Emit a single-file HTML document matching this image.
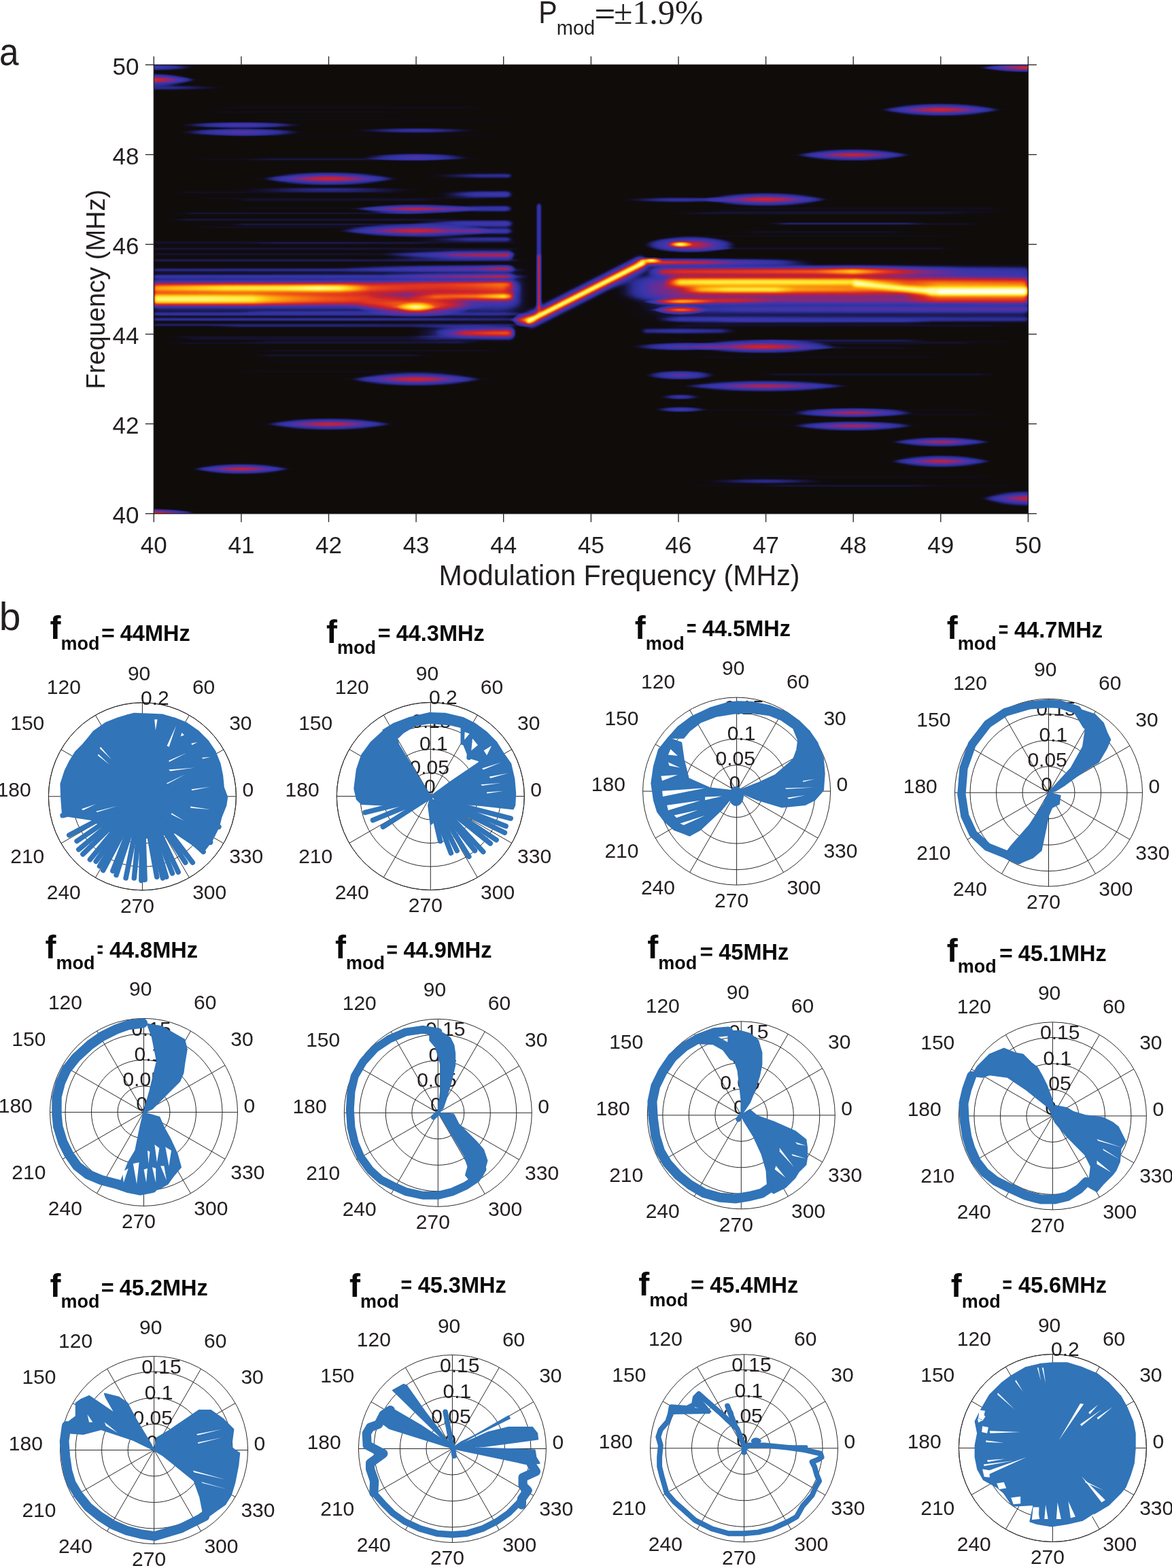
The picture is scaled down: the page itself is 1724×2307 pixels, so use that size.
<!DOCTYPE html>
<html><head><meta charset="utf-8"><title>Figure</title>
<style>html,body{margin:0;padding:0;background:#fff;width:1724px;height:2307px;overflow:hidden;}svg{display:block;}</style></head>
<body><svg width="1724" height="2307" viewBox="0 0 1724 2307">
<rect width="1724" height="2307" fill="#fff"/>
<defs>
<radialGradient id="gb"><stop offset="0" stop-color="#fff" stop-opacity="1"/><stop offset="0.05" stop-color="#fff" stop-opacity="0.9849"/><stop offset="0.10" stop-color="#fff" stop-opacity="0.9602"/><stop offset="0.15" stop-color="#fff" stop-opacity="0.9298"/><stop offset="0.20" stop-color="#fff" stop-opacity="0.8949"/><stop offset="0.25" stop-color="#fff" stop-opacity="0.8564"/><stop offset="0.30" stop-color="#fff" stop-opacity="0.8147"/><stop offset="0.40" stop-color="#fff" stop-opacity="0.7227"/><stop offset="0.50" stop-color="#fff" stop-opacity="0.6211"/><stop offset="0.60" stop-color="#fff" stop-opacity="0.5109"/><stop offset="0.70" stop-color="#fff" stop-opacity="0.3931"/><stop offset="0.80" stop-color="#fff" stop-opacity="0.2683"/><stop offset="0.90" stop-color="#fff" stop-opacity="0.1371"/><stop offset="0.95" stop-color="#fff" stop-opacity="0.0693"/><stop offset="1" stop-color="#fff" stop-opacity="0"/></radialGradient>
<filter id="cm" x="0" y="0" width="1" height="1" color-interpolation-filters="sRGB"><feComponentTransfer><feFuncR type="table" tableValues="0.0627 0.0640 0.0652 0.0664 0.0716 0.0777 0.0838 0.0951 0.1098 0.1245 0.1392 0.1539 0.1686 0.1816 0.1877 0.1939 0.2000 0.2061 0.2132 0.2316 0.2500 0.2684 0.2868 0.3051 0.3382 0.3719 0.4056 0.4393 0.4730 0.5125 0.5531 0.5937 0.6343 0.6749 0.7061 0.7337 0.7613 0.7888 0.8110 0.8325 0.8539 0.8754 0.8968 0.9107 0.9222 0.9337 0.9452 0.9566 0.9642 0.9696 0.9749 0.9803 0.9857 0.9894 0.9917 0.9940 0.9963 0.9986 1.0000 1.0000 1.0000 1.0000 1.0000 1.0000 1.0000"/><feFuncG type="table" tableValues="0.0471 0.0483 0.0495 0.0507 0.0578 0.0664 0.0750 0.0887 0.1059 0.1230 0.1392 0.1539 0.1686 0.1816 0.1877 0.1939 0.2000 0.2061 0.2115 0.2085 0.2054 0.2023 0.1993 0.1962 0.1902 0.1841 0.1779 0.1718 0.1657 0.1602 0.1548 0.1495 0.1441 0.1388 0.1380 0.1390 0.1400 0.1411 0.1574 0.1757 0.1941 0.2125 0.2309 0.2644 0.3027 0.3410 0.3793 0.4176 0.4608 0.5067 0.5527 0.5987 0.6446 0.6886 0.7307 0.7728 0.8150 0.8571 0.8922 0.9167 0.9412 0.9632 0.9755 0.9877 1.0000"/><feFuncB type="table" tableValues="0.0431 0.0542 0.0652 0.0762 0.1127 0.1556 0.1985 0.2561 0.3235 0.3909 0.4510 0.5000 0.5490 0.5913 0.6066 0.6219 0.6373 0.6526 0.6664 0.6625 0.6587 0.6549 0.6510 0.6472 0.6250 0.6020 0.5790 0.5561 0.5331 0.4889 0.4406 0.3924 0.3441 0.2959 0.2625 0.2349 0.2074 0.1798 0.1650 0.1520 0.1390 0.1259 0.1129 0.1040 0.0963 0.0887 0.0810 0.0733 0.0676 0.0631 0.0585 0.0539 0.0493 0.0582 0.0797 0.1011 0.1225 0.1440 0.1961 0.2941 0.3922 0.5000 0.6471 0.7941 0.9412"/></feComponentTransfer></filter>
<clipPath id="hc"><rect x="226.3" y="95.4" width="1286.1" height="660.3"/></clipPath>
</defs>
<g clip-path="url(#hc)"><g filter="url(#cm)">
<rect x="226.3" y="95.4" width="1286.1" height="660.3" fill="#000"/>
<ellipse cx="226.0" cy="99.0" rx="65.3" ry="5.8" fill="url(#gb)" opacity="0.320"/>
<ellipse cx="222.0" cy="117.5" rx="65.0" ry="10.5" fill="url(#gb)" opacity="0.510"/>
<ellipse cx="222.0" cy="117.5" rx="80.6" ry="5.1" fill="url(#gb)" opacity="0.240"/>
<ellipse cx="240.0" cy="129.0" rx="100.0" ry="5.0" fill="url(#gb)" opacity="0.200"/>
<ellipse cx="355.0" cy="184.0" rx="96.4" ry="5.5" fill="url(#gb)" opacity="0.360"/>
<ellipse cx="355.0" cy="194.5" rx="95.3" ry="6.6" fill="url(#gb)" opacity="0.400"/>
<ellipse cx="612.0" cy="192.0" rx="100.0" ry="5.0" fill="url(#gb)" opacity="0.240"/>
<ellipse cx="612.0" cy="231.0" rx="81.8" ry="6.3" fill="url(#gb)" opacity="0.340"/>
<ellipse cx="484.0" cy="263.0" rx="98.2" ry="11.3" fill="url(#gb)" opacity="0.476"/>
<ellipse cx="484.0" cy="263.0" rx="119.6" ry="5.4" fill="url(#gb)" opacity="0.224"/>
<ellipse cx="484.0" cy="279.0" rx="150.0" ry="5.0" fill="url(#gb)" opacity="0.190"/>
<ellipse cx="612.0" cy="307.5" rx="89.4" ry="8.3" fill="url(#gb)" opacity="0.442"/>
<ellipse cx="612.0" cy="307.5" rx="106.6" ry="3.9" fill="url(#gb)" opacity="0.208"/>
<ellipse cx="612.0" cy="339.6" rx="112.6" ry="10.7" fill="url(#gb)" opacity="0.468"/>
<ellipse cx="612.0" cy="339.6" rx="136.5" ry="5.1" fill="url(#gb)" opacity="0.220"/>
<ellipse cx="610.0" cy="450.0" rx="87.2" ry="16.9" fill="url(#gb)" opacity="0.561"/>
<ellipse cx="610.0" cy="450.0" rx="110.5" ry="8.4" fill="url(#gb)" opacity="0.264"/>
<ellipse cx="612.0" cy="452.0" rx="29.0" ry="8.0" fill="url(#gb)" opacity="0.790"/>
<ellipse cx="612.0" cy="452.0" rx="39.0" ry="4.2" fill="url(#gb)" opacity="0.372"/>
<ellipse cx="772.0" cy="471.0" rx="18.5" ry="10.9" fill="url(#gb)" opacity="0.561"/>
<ellipse cx="772.0" cy="471.0" rx="23.4" ry="5.4" fill="url(#gb)" opacity="0.264"/>
<ellipse cx="1015.0" cy="360.0" rx="71.4" ry="13.1" fill="url(#gb)" opacity="0.600"/>
<ellipse cx="1001.0" cy="359.5" rx="18.9" ry="5.0" fill="url(#gb)" opacity="0.950"/>
<ellipse cx="1001.0" cy="456.0" rx="39.0" ry="7.2" fill="url(#gb)" opacity="0.561"/>
<ellipse cx="1001.0" cy="456.0" rx="49.4" ry="3.6" fill="url(#gb)" opacity="0.264"/>
<ellipse cx="1126.0" cy="293.5" rx="90.7" ry="11.3" fill="url(#gb)" opacity="0.476"/>
<ellipse cx="1126.0" cy="293.5" rx="110.5" ry="5.4" fill="url(#gb)" opacity="0.224"/>
<ellipse cx="1000.0" cy="294.0" rx="91.7" ry="5.0" fill="url(#gb)" opacity="0.240"/>
<ellipse cx="1122.0" cy="510.0" rx="107.3" ry="11.4" fill="url(#gb)" opacity="0.468"/>
<ellipse cx="1122.0" cy="510.0" rx="130.0" ry="5.4" fill="url(#gb)" opacity="0.220"/>
<ellipse cx="1000.0" cy="510.0" rx="75.7" ry="6.9" fill="url(#gb)" opacity="0.360"/>
<ellipse cx="1255.0" cy="228.0" rx="84.1" ry="10.1" fill="url(#gb)" opacity="0.459"/>
<ellipse cx="1255.0" cy="228.0" rx="101.4" ry="4.8" fill="url(#gb)" opacity="0.216"/>
<ellipse cx="1384.0" cy="161.5" rx="87.5" ry="10.7" fill="url(#gb)" opacity="0.476"/>
<ellipse cx="1384.0" cy="161.5" rx="106.6" ry="5.1" fill="url(#gb)" opacity="0.224"/>
<ellipse cx="1512.0" cy="99.7" rx="69.8" ry="7.5" fill="url(#gb)" opacity="0.493"/>
<ellipse cx="1512.0" cy="99.7" rx="85.8" ry="3.6" fill="url(#gb)" opacity="0.232"/>
<ellipse cx="1126.0" cy="568.0" rx="121.4" ry="9.7" fill="url(#gb)" opacity="0.425"/>
<ellipse cx="1126.0" cy="568.0" rx="143.0" ry="4.5" fill="url(#gb)" opacity="0.200"/>
<ellipse cx="1001.0" cy="552.0" rx="55.6" ry="7.9" fill="url(#gb)" opacity="0.400"/>
<ellipse cx="1001.0" cy="584.0" rx="33.3" ry="5.0" fill="url(#gb)" opacity="0.260"/>
<ellipse cx="1001.0" cy="602.5" rx="41.7" ry="5.0" fill="url(#gb)" opacity="0.300"/>
<ellipse cx="1255.0" cy="607.2" rx="89.4" ry="8.5" fill="url(#gb)" opacity="0.408"/>
<ellipse cx="1255.0" cy="607.2" rx="104.0" ry="3.9" fill="url(#gb)" opacity="0.192"/>
<ellipse cx="1255.0" cy="626.8" rx="89.4" ry="8.5" fill="url(#gb)" opacity="0.408"/>
<ellipse cx="1255.0" cy="626.8" rx="104.0" ry="3.9" fill="url(#gb)" opacity="0.192"/>
<ellipse cx="1384.0" cy="650.2" rx="73.8" ry="8.5" fill="url(#gb)" opacity="0.408"/>
<ellipse cx="1384.0" cy="650.2" rx="85.8" ry="3.9" fill="url(#gb)" opacity="0.192"/>
<ellipse cx="1384.0" cy="678.7" rx="74.1" ry="10.3" fill="url(#gb)" opacity="0.442"/>
<ellipse cx="1384.0" cy="678.7" rx="88.4" ry="4.8" fill="url(#gb)" opacity="0.208"/>
<ellipse cx="1512.0" cy="733.4" rx="67.6" ry="12.8" fill="url(#gb)" opacity="0.442"/>
<ellipse cx="1512.0" cy="733.4" rx="80.6" ry="6.0" fill="url(#gb)" opacity="0.208"/>
<ellipse cx="1126.0" cy="708.0" rx="100.0" ry="5.0" fill="url(#gb)" opacity="0.200"/>
<ellipse cx="612.0" cy="558.0" rx="96.1" ry="11.3" fill="url(#gb)" opacity="0.476"/>
<ellipse cx="612.0" cy="558.0" rx="117.0" ry="5.4" fill="url(#gb)" opacity="0.224"/>
<ellipse cx="484.0" cy="624.0" rx="92.7" ry="10.1" fill="url(#gb)" opacity="0.459"/>
<ellipse cx="484.0" cy="624.0" rx="111.8" ry="4.8" fill="url(#gb)" opacity="0.216"/>
<ellipse cx="355.0" cy="690.0" rx="71.5" ry="8.9" fill="url(#gb)" opacity="0.451"/>
<ellipse cx="355.0" cy="690.0" rx="85.8" ry="4.2" fill="url(#gb)" opacity="0.212"/>
<ellipse cx="222.0" cy="754.0" rx="63.5" ry="6.2" fill="url(#gb)" opacity="0.493"/>
<ellipse cx="222.0" cy="754.0" rx="78.0" ry="3.0" fill="url(#gb)" opacity="0.232"/>
<ellipse cx="1000.0" cy="444.0" rx="53.9" ry="4.8" fill="url(#gb)" opacity="0.580"/>
<ellipse cx="958.0" cy="383.0" rx="17.8" ry="4.4" fill="url(#gb)" opacity="0.950"/>
<defs><linearGradient id="hb1" gradientUnits="userSpaceOnUse" x1="226.0" y1="0" x2="1512.0" y2="0"><stop offset="0.0000" stop-color="#fff" stop-opacity="0.140"/><stop offset="0.2908" stop-color="#fff" stop-opacity="0.180"/><stop offset="0.3997" stop-color="#fff" stop-opacity="0.200"/><stop offset="0.4386" stop-color="#fff" stop-opacity="0.000"/><stop offset="0.5397" stop-color="#fff" stop-opacity="0.000"/><stop offset="0.6019" stop-color="#fff" stop-opacity="0.220"/><stop offset="1.0000" stop-color="#fff" stop-opacity="0.240"/></linearGradient><filter id="f40_100" filterUnits="userSpaceOnUse" x="0" y="0" width="1724" height="900"><feGaussianBlur stdDeviation="4.0 10.0"/></filter><linearGradient id="hb2" gradientUnits="userSpaceOnUse" x1="900.0" y1="0" x2="1512.0" y2="0"><stop offset="0.0000" stop-color="#fff" stop-opacity="0.000"/><stop offset="0.0980" stop-color="#fff" stop-opacity="0.320"/><stop offset="0.3268" stop-color="#fff" stop-opacity="0.380"/><stop offset="0.6536" stop-color="#fff" stop-opacity="0.360"/><stop offset="1.0000" stop-color="#fff" stop-opacity="0.300"/></linearGradient><filter id="f40_50" filterUnits="userSpaceOnUse" x="0" y="0" width="1724" height="900"><feGaussianBlur stdDeviation="4.0 5.0"/></filter><linearGradient id="hb3" gradientUnits="userSpaceOnUse" x1="620.0" y1="0" x2="756.0" y2="0"><stop offset="0.0000" stop-color="#fff" stop-opacity="0.000"/><stop offset="0.5882" stop-color="#fff" stop-opacity="0.260"/><stop offset="0.9412" stop-color="#fff" stop-opacity="0.280"/><stop offset="1.0000" stop-color="#fff" stop-opacity="0.000"/></linearGradient><filter id="f20_20" filterUnits="userSpaceOnUse" x="0" y="0" width="1724" height="900"><feGaussianBlur stdDeviation="2.0 2.0"/></filter><linearGradient id="hb4" gradientUnits="userSpaceOnUse" x1="640.0" y1="0" x2="756.0" y2="0"><stop offset="0.0000" stop-color="#fff" stop-opacity="0.000"/><stop offset="0.5172" stop-color="#fff" stop-opacity="0.340"/><stop offset="0.9052" stop-color="#fff" stop-opacity="0.380"/><stop offset="1.0000" stop-color="#fff" stop-opacity="0.000"/></linearGradient><filter id="f20_25" filterUnits="userSpaceOnUse" x="0" y="0" width="1724" height="900"><feGaussianBlur stdDeviation="2.0 2.5"/></filter><linearGradient id="hb5" gradientUnits="userSpaceOnUse" x1="640.0" y1="0" x2="756.0" y2="0"><stop offset="0.0000" stop-color="#fff" stop-opacity="0.000"/><stop offset="0.5172" stop-color="#fff" stop-opacity="0.340"/><stop offset="0.9052" stop-color="#fff" stop-opacity="0.360"/><stop offset="1.0000" stop-color="#fff" stop-opacity="0.000"/></linearGradient><linearGradient id="hb6" gradientUnits="userSpaceOnUse" x1="600.0" y1="0" x2="758.0" y2="0"><stop offset="0.0000" stop-color="#fff" stop-opacity="0.000"/><stop offset="0.5063" stop-color="#fff" stop-opacity="0.360"/><stop offset="0.9177" stop-color="#fff" stop-opacity="0.400"/><stop offset="1.0000" stop-color="#fff" stop-opacity="0.000"/></linearGradient><linearGradient id="hb7" gradientUnits="userSpaceOnUse" x1="660.0" y1="0" x2="758.0" y2="0"><stop offset="0.0000" stop-color="#fff" stop-opacity="0.000"/><stop offset="0.4082" stop-color="#fff" stop-opacity="0.360"/><stop offset="0.8673" stop-color="#fff" stop-opacity="0.380"/><stop offset="1.0000" stop-color="#fff" stop-opacity="0.000"/></linearGradient><linearGradient id="hb8" gradientUnits="userSpaceOnUse" x1="600.0" y1="0" x2="758.0" y2="0"><stop offset="0.0000" stop-color="#fff" stop-opacity="0.000"/><stop offset="0.5696" stop-color="#fff" stop-opacity="0.280"/><stop offset="0.9177" stop-color="#fff" stop-opacity="0.300"/><stop offset="1.0000" stop-color="#fff" stop-opacity="0.000"/></linearGradient><linearGradient id="hb9" gradientUnits="userSpaceOnUse" x1="560.0" y1="0" x2="758.0" y2="0"><stop offset="0.0000" stop-color="#fff" stop-opacity="0.000"/><stop offset="0.4040" stop-color="#fff" stop-opacity="0.350"/><stop offset="0.5556" stop-color="#fff" stop-opacity="0.550"/><stop offset="0.7071" stop-color="#fff" stop-opacity="0.620"/><stop offset="0.9495" stop-color="#fff" stop-opacity="0.640"/><stop offset="1.0000" stop-color="#fff" stop-opacity="0.000"/></linearGradient><filter id="f20_30" filterUnits="userSpaceOnUse" x="0" y="0" width="1724" height="900"><feGaussianBlur stdDeviation="2.0 3.0"/></filter><linearGradient id="hb10" gradientUnits="userSpaceOnUse" x1="500.0" y1="0" x2="758.0" y2="0"><stop offset="0.0000" stop-color="#fff" stop-opacity="0.000"/><stop offset="0.4651" stop-color="#fff" stop-opacity="0.300"/><stop offset="0.7752" stop-color="#fff" stop-opacity="0.420"/><stop offset="0.9109" stop-color="#fff" stop-opacity="0.600"/><stop offset="0.9612" stop-color="#fff" stop-opacity="0.580"/><stop offset="1.0000" stop-color="#fff" stop-opacity="0.000"/></linearGradient><linearGradient id="hb11" gradientUnits="userSpaceOnUse" x1="560.0" y1="0" x2="758.0" y2="0"><stop offset="0.0000" stop-color="#fff" stop-opacity="0.000"/><stop offset="0.4545" stop-color="#fff" stop-opacity="0.320"/><stop offset="0.8838" stop-color="#fff" stop-opacity="0.520"/><stop offset="0.9495" stop-color="#fff" stop-opacity="0.500"/><stop offset="1.0000" stop-color="#fff" stop-opacity="0.000"/></linearGradient><linearGradient id="hb12" gradientUnits="userSpaceOnUse" x1="480.0" y1="0" x2="758.0" y2="0"><stop offset="0.0000" stop-color="#fff" stop-opacity="0.000"/><stop offset="0.5036" stop-color="#fff" stop-opacity="0.380"/><stop offset="0.7914" stop-color="#fff" stop-opacity="0.500"/><stop offset="0.9173" stop-color="#fff" stop-opacity="0.600"/><stop offset="0.9640" stop-color="#fff" stop-opacity="0.600"/><stop offset="1.0000" stop-color="#fff" stop-opacity="0.000"/></linearGradient><linearGradient id="hb13" gradientUnits="userSpaceOnUse" x1="226.0" y1="0" x2="780.0" y2="0"><stop offset="0.0000" stop-color="#fff" stop-opacity="0.130"/><stop offset="0.4946" stop-color="#fff" stop-opacity="0.130"/><stop offset="0.7653" stop-color="#fff" stop-opacity="0.104"/><stop offset="0.9639" stop-color="#fff" stop-opacity="0.078"/><stop offset="1.0000" stop-color="#fff" stop-opacity="0.000"/></linearGradient><filter id="f20_15" filterUnits="userSpaceOnUse" x="0" y="0" width="1724" height="900"><feGaussianBlur stdDeviation="2.0 1.5"/></filter><linearGradient id="hb14" gradientUnits="userSpaceOnUse" x1="226.0" y1="0" x2="780.0" y2="0"><stop offset="0.0000" stop-color="#fff" stop-opacity="0.160"/><stop offset="0.4946" stop-color="#fff" stop-opacity="0.160"/><stop offset="0.7653" stop-color="#fff" stop-opacity="0.128"/><stop offset="0.9639" stop-color="#fff" stop-opacity="0.096"/><stop offset="1.0000" stop-color="#fff" stop-opacity="0.000"/></linearGradient><linearGradient id="hb15" gradientUnits="userSpaceOnUse" x1="226.0" y1="0" x2="780.0" y2="0"><stop offset="0.0000" stop-color="#fff" stop-opacity="0.130"/><stop offset="0.4946" stop-color="#fff" stop-opacity="0.130"/><stop offset="0.7653" stop-color="#fff" stop-opacity="0.104"/><stop offset="0.9639" stop-color="#fff" stop-opacity="0.078"/><stop offset="1.0000" stop-color="#fff" stop-opacity="0.000"/></linearGradient><linearGradient id="hb16" gradientUnits="userSpaceOnUse" x1="226.0" y1="0" x2="780.0" y2="0"><stop offset="0.0000" stop-color="#fff" stop-opacity="0.190"/><stop offset="0.4946" stop-color="#fff" stop-opacity="0.190"/><stop offset="0.7653" stop-color="#fff" stop-opacity="0.152"/><stop offset="0.9639" stop-color="#fff" stop-opacity="0.114"/><stop offset="1.0000" stop-color="#fff" stop-opacity="0.000"/></linearGradient><linearGradient id="hb17" gradientUnits="userSpaceOnUse" x1="226.0" y1="0" x2="780.0" y2="0"><stop offset="0.0000" stop-color="#fff" stop-opacity="0.200"/><stop offset="0.4946" stop-color="#fff" stop-opacity="0.200"/><stop offset="0.7653" stop-color="#fff" stop-opacity="0.160"/><stop offset="0.9639" stop-color="#fff" stop-opacity="0.120"/><stop offset="1.0000" stop-color="#fff" stop-opacity="0.000"/></linearGradient><linearGradient id="hb18" gradientUnits="userSpaceOnUse" x1="226.0" y1="0" x2="780.0" y2="0"><stop offset="0.0000" stop-color="#fff" stop-opacity="0.250"/><stop offset="0.4946" stop-color="#fff" stop-opacity="0.250"/><stop offset="0.7653" stop-color="#fff" stop-opacity="0.200"/><stop offset="0.9639" stop-color="#fff" stop-opacity="0.150"/><stop offset="1.0000" stop-color="#fff" stop-opacity="0.000"/></linearGradient><linearGradient id="hb19" gradientUnits="userSpaceOnUse" x1="226.0" y1="0" x2="780.0" y2="0"><stop offset="0.0000" stop-color="#fff" stop-opacity="0.240"/><stop offset="0.4946" stop-color="#fff" stop-opacity="0.240"/><stop offset="0.7653" stop-color="#fff" stop-opacity="0.192"/><stop offset="0.9639" stop-color="#fff" stop-opacity="0.144"/><stop offset="1.0000" stop-color="#fff" stop-opacity="0.000"/></linearGradient><linearGradient id="hb20" gradientUnits="userSpaceOnUse" x1="226.0" y1="0" x2="780.0" y2="0"><stop offset="0.0000" stop-color="#fff" stop-opacity="0.260"/><stop offset="0.4946" stop-color="#fff" stop-opacity="0.260"/><stop offset="0.7653" stop-color="#fff" stop-opacity="0.208"/><stop offset="0.9639" stop-color="#fff" stop-opacity="0.156"/><stop offset="1.0000" stop-color="#fff" stop-opacity="0.000"/></linearGradient><linearGradient id="hb21" gradientUnits="userSpaceOnUse" x1="226.0" y1="0" x2="780.0" y2="0"><stop offset="0.0000" stop-color="#fff" stop-opacity="0.200"/><stop offset="0.4946" stop-color="#fff" stop-opacity="0.200"/><stop offset="0.7653" stop-color="#fff" stop-opacity="0.160"/><stop offset="0.9639" stop-color="#fff" stop-opacity="0.120"/><stop offset="1.0000" stop-color="#fff" stop-opacity="0.000"/></linearGradient><linearGradient id="hb22" gradientUnits="userSpaceOnUse" x1="226.0" y1="0" x2="770.0" y2="0"><stop offset="0.0000" stop-color="#fff" stop-opacity="0.300"/><stop offset="0.5037" stop-color="#fff" stop-opacity="0.300"/><stop offset="0.6140" stop-color="#fff" stop-opacity="0.260"/><stop offset="0.8713" stop-color="#fff" stop-opacity="0.260"/><stop offset="0.9632" stop-color="#fff" stop-opacity="0.260"/><stop offset="1.0000" stop-color="#fff" stop-opacity="0.000"/></linearGradient><filter id="f20_50" filterUnits="userSpaceOnUse" x="0" y="0" width="1724" height="900"><feGaussianBlur stdDeviation="2.0 5.0"/></filter><linearGradient id="hb23" gradientUnits="userSpaceOnUse" x1="226.0" y1="0" x2="765.0" y2="0"><stop offset="0.0000" stop-color="#fff" stop-opacity="0.720"/><stop offset="0.1373" stop-color="#fff" stop-opacity="0.840"/><stop offset="0.1929" stop-color="#fff" stop-opacity="0.900"/><stop offset="0.3599" stop-color="#fff" stop-opacity="0.930"/><stop offset="0.4527" stop-color="#fff" stop-opacity="1.000"/><stop offset="0.5083" stop-color="#fff" stop-opacity="0.950"/><stop offset="0.5455" stop-color="#fff" stop-opacity="0.780"/><stop offset="0.5918" stop-color="#fff" stop-opacity="0.520"/><stop offset="0.6939" stop-color="#fff" stop-opacity="0.400"/><stop offset="0.7866" stop-color="#fff" stop-opacity="0.360"/><stop offset="0.8794" stop-color="#fff" stop-opacity="0.420"/><stop offset="0.9536" stop-color="#fff" stop-opacity="0.500"/><stop offset="1.0000" stop-color="#fff" stop-opacity="0.000"/></linearGradient><linearGradient id="hb24" gradientUnits="userSpaceOnUse" x1="226.0" y1="0" x2="600.0" y2="0"><stop offset="0.0000" stop-color="#fff" stop-opacity="0.920"/><stop offset="0.1979" stop-color="#fff" stop-opacity="0.920"/><stop offset="0.3850" stop-color="#fff" stop-opacity="0.880"/><stop offset="0.4652" stop-color="#fff" stop-opacity="0.720"/><stop offset="0.5722" stop-color="#fff" stop-opacity="0.600"/><stop offset="0.6791" stop-color="#fff" stop-opacity="0.500"/><stop offset="0.8396" stop-color="#fff" stop-opacity="0.420"/><stop offset="1.0000" stop-color="#fff" stop-opacity="0.000"/></linearGradient><linearGradient id="hb25" gradientUnits="userSpaceOnUse" x1="600.0" y1="0" x2="758.0" y2="0"><stop offset="0.0000" stop-color="#fff" stop-opacity="0.000"/><stop offset="0.2532" stop-color="#fff" stop-opacity="0.550"/><stop offset="0.6329" stop-color="#fff" stop-opacity="0.640"/><stop offset="0.8228" stop-color="#fff" stop-opacity="0.850"/><stop offset="0.8987" stop-color="#fff" stop-opacity="0.940"/><stop offset="0.9620" stop-color="#fff" stop-opacity="0.600"/><stop offset="1.0000" stop-color="#fff" stop-opacity="0.000"/></linearGradient><linearGradient id="hb26" gradientUnits="userSpaceOnUse" x1="600.0" y1="0" x2="760.0" y2="0"><stop offset="0.0000" stop-color="#fff" stop-opacity="0.000"/><stop offset="0.5000" stop-color="#fff" stop-opacity="0.300"/><stop offset="0.9375" stop-color="#fff" stop-opacity="0.360"/><stop offset="1.0000" stop-color="#fff" stop-opacity="0.000"/></linearGradient><filter id="f20_40" filterUnits="userSpaceOnUse" x="0" y="0" width="1724" height="900"><feGaussianBlur stdDeviation="2.0 4.0"/></filter><linearGradient id="hb27" gradientUnits="userSpaceOnUse" x1="640.0" y1="0" x2="758.0" y2="0"><stop offset="0.0000" stop-color="#fff" stop-opacity="0.000"/><stop offset="0.3814" stop-color="#fff" stop-opacity="0.500"/><stop offset="0.6780" stop-color="#fff" stop-opacity="0.640"/><stop offset="0.8898" stop-color="#fff" stop-opacity="0.680"/><stop offset="0.9492" stop-color="#fff" stop-opacity="0.500"/><stop offset="1.0000" stop-color="#fff" stop-opacity="0.000"/></linearGradient><linearGradient id="hb28" gradientUnits="userSpaceOnUse" x1="935.0" y1="0" x2="1200.0" y2="0"><stop offset="0.0000" stop-color="#fff" stop-opacity="0.000"/><stop offset="0.0377" stop-color="#fff" stop-opacity="0.800"/><stop offset="0.2075" stop-color="#fff" stop-opacity="0.720"/><stop offset="0.3962" stop-color="#fff" stop-opacity="0.620"/><stop offset="0.5472" stop-color="#fff" stop-opacity="0.450"/><stop offset="0.7736" stop-color="#fff" stop-opacity="0.300"/><stop offset="1.0000" stop-color="#fff" stop-opacity="0.000"/></linearGradient><linearGradient id="hb29" gradientUnits="userSpaceOnUse" x1="950.0" y1="0" x2="1512.0" y2="0"><stop offset="0.0000" stop-color="#fff" stop-opacity="0.000"/><stop offset="0.0445" stop-color="#fff" stop-opacity="0.560"/><stop offset="0.0890" stop-color="#fff" stop-opacity="0.620"/><stop offset="0.2669" stop-color="#fff" stop-opacity="0.660"/><stop offset="0.4448" stop-color="#fff" stop-opacity="0.720"/><stop offset="0.5427" stop-color="#fff" stop-opacity="0.920"/><stop offset="0.6228" stop-color="#fff" stop-opacity="0.680"/><stop offset="0.7117" stop-color="#fff" stop-opacity="0.450"/><stop offset="0.8363" stop-color="#fff" stop-opacity="0.250"/><stop offset="1.0000" stop-color="#fff" stop-opacity="0.180"/></linearGradient><linearGradient id="hb30" gradientUnits="userSpaceOnUse" x1="975.0" y1="0" x2="1512.0" y2="0"><stop offset="0.0000" stop-color="#fff" stop-opacity="0.000"/><stop offset="0.0466" stop-color="#fff" stop-opacity="0.880"/><stop offset="0.1397" stop-color="#fff" stop-opacity="0.900"/><stop offset="0.3259" stop-color="#fff" stop-opacity="0.900"/><stop offset="0.5121" stop-color="#fff" stop-opacity="0.880"/><stop offset="0.5866" stop-color="#fff" stop-opacity="0.600"/><stop offset="0.6797" stop-color="#fff" stop-opacity="0.400"/><stop offset="1.0000" stop-color="#fff" stop-opacity="0.300"/></linearGradient><linearGradient id="hb31" gradientUnits="userSpaceOnUse" x1="1000.0" y1="0" x2="1512.0" y2="0"><stop offset="0.0000" stop-color="#fff" stop-opacity="0.000"/><stop offset="0.0586" stop-color="#fff" stop-opacity="0.700"/><stop offset="0.1367" stop-color="#fff" stop-opacity="0.880"/><stop offset="0.2734" stop-color="#fff" stop-opacity="0.880"/><stop offset="0.3320" stop-color="#fff" stop-opacity="0.620"/><stop offset="0.4883" stop-color="#fff" stop-opacity="0.550"/><stop offset="0.5859" stop-color="#fff" stop-opacity="0.400"/><stop offset="1.0000" stop-color="#fff" stop-opacity="0.350"/></linearGradient><filter id="f25_25" filterUnits="userSpaceOnUse" x="0" y="0" width="1724" height="900"><feGaussianBlur stdDeviation="2.5 2.5"/></filter><linearGradient id="hb32" gradientUnits="userSpaceOnUse" x1="1330.0" y1="0" x2="1512.0" y2="0"><stop offset="0.0000" stop-color="#fff" stop-opacity="0.000"/><stop offset="0.2747" stop-color="#fff" stop-opacity="0.580"/><stop offset="1.0000" stop-color="#fff" stop-opacity="0.600"/></linearGradient><filter id="f30_40" filterUnits="userSpaceOnUse" x="0" y="0" width="1724" height="900"><feGaussianBlur stdDeviation="3.0 4.0"/></filter><linearGradient id="hb33" gradientUnits="userSpaceOnUse" x1="1360.0" y1="0" x2="1512.0" y2="0"><stop offset="0.0000" stop-color="#fff" stop-opacity="0.000"/><stop offset="0.1316" stop-color="#fff" stop-opacity="1.000"/><stop offset="1.0000" stop-color="#fff" stop-opacity="1.000"/></linearGradient><filter id="f30_20" filterUnits="userSpaceOnUse" x="0" y="0" width="1724" height="900"><feGaussianBlur stdDeviation="3.0 2.0"/></filter><linearGradient id="hb34" gradientUnits="userSpaceOnUse" x1="960.0" y1="0" x2="1512.0" y2="0"><stop offset="0.0000" stop-color="#fff" stop-opacity="0.000"/><stop offset="0.0725" stop-color="#fff" stop-opacity="0.620"/><stop offset="0.2174" stop-color="#fff" stop-opacity="0.550"/><stop offset="0.3261" stop-color="#fff" stop-opacity="0.300"/><stop offset="0.6159" stop-color="#fff" stop-opacity="0.300"/><stop offset="1.0000" stop-color="#fff" stop-opacity="0.300"/></linearGradient><linearGradient id="hb35" gradientUnits="userSpaceOnUse" x1="960.0" y1="0" x2="1512.0" y2="0"><stop offset="0.0000" stop-color="#fff" stop-opacity="0.000"/><stop offset="0.0725" stop-color="#fff" stop-opacity="0.300"/><stop offset="0.1630" stop-color="#fff" stop-opacity="0.340"/><stop offset="0.4348" stop-color="#fff" stop-opacity="0.250"/><stop offset="1.0000" stop-color="#fff" stop-opacity="0.200"/></linearGradient><linearGradient id="hb36" gradientUnits="userSpaceOnUse" x1="940.0" y1="0" x2="1090.0" y2="0"><stop offset="0.0000" stop-color="#fff" stop-opacity="0.000"/><stop offset="0.0667" stop-color="#fff" stop-opacity="0.280"/><stop offset="0.4000" stop-color="#fff" stop-opacity="0.360"/><stop offset="0.8000" stop-color="#fff" stop-opacity="0.280"/><stop offset="1.0000" stop-color="#fff" stop-opacity="0.000"/></linearGradient><linearGradient id="hb37" gradientUnits="userSpaceOnUse" x1="1000.0" y1="0" x2="1512.0" y2="0"><stop offset="0.0000" stop-color="#fff" stop-opacity="0.000"/><stop offset="0.1953" stop-color="#fff" stop-opacity="0.240"/><stop offset="0.5859" stop-color="#fff" stop-opacity="0.300"/><stop offset="1.0000" stop-color="#fff" stop-opacity="0.320"/></linearGradient><linearGradient id="hb38" gradientUnits="userSpaceOnUse" x1="330.3" y1="0" x2="611.4" y2="0"><stop offset="0.0000" stop-color="#fff" stop-opacity="0.000"/><stop offset="0.1423" stop-color="#fff" stop-opacity="0.075"/><stop offset="0.8577" stop-color="#fff" stop-opacity="0.075"/><stop offset="1.0000" stop-color="#fff" stop-opacity="0.000"/></linearGradient><filter id="f20_12" filterUnits="userSpaceOnUse" x="0" y="0" width="1724" height="900"><feGaussianBlur stdDeviation="2.0 1.2"/></filter><linearGradient id="hb39" gradientUnits="userSpaceOnUse" x1="235.3" y1="0" x2="681.1" y2="0"><stop offset="0.0000" stop-color="#fff" stop-opacity="0.000"/><stop offset="0.0897" stop-color="#fff" stop-opacity="0.097"/><stop offset="0.9103" stop-color="#fff" stop-opacity="0.097"/><stop offset="1.0000" stop-color="#fff" stop-opacity="0.000"/></linearGradient><linearGradient id="hb40" gradientUnits="userSpaceOnUse" x1="237.2" y1="0" x2="614.3" y2="0"><stop offset="0.0000" stop-color="#fff" stop-opacity="0.000"/><stop offset="0.1061" stop-color="#fff" stop-opacity="0.103"/><stop offset="0.8939" stop-color="#fff" stop-opacity="0.103"/><stop offset="1.0000" stop-color="#fff" stop-opacity="0.000"/></linearGradient><linearGradient id="hb41" gradientUnits="userSpaceOnUse" x1="245.8" y1="0" x2="635.6" y2="0"><stop offset="0.0000" stop-color="#fff" stop-opacity="0.000"/><stop offset="0.1026" stop-color="#fff" stop-opacity="0.143"/><stop offset="0.8974" stop-color="#fff" stop-opacity="0.143"/><stop offset="1.0000" stop-color="#fff" stop-opacity="0.000"/></linearGradient><linearGradient id="hb42" gradientUnits="userSpaceOnUse" x1="318.5" y1="0" x2="663.3" y2="0"><stop offset="0.0000" stop-color="#fff" stop-opacity="0.000"/><stop offset="0.1160" stop-color="#fff" stop-opacity="0.155"/><stop offset="0.8840" stop-color="#fff" stop-opacity="0.155"/><stop offset="1.0000" stop-color="#fff" stop-opacity="0.000"/></linearGradient><linearGradient id="hb43" gradientUnits="userSpaceOnUse" x1="363.5" y1="0" x2="646.2" y2="0"><stop offset="0.0000" stop-color="#fff" stop-opacity="0.000"/><stop offset="0.1415" stop-color="#fff" stop-opacity="0.065"/><stop offset="0.8585" stop-color="#fff" stop-opacity="0.065"/><stop offset="1.0000" stop-color="#fff" stop-opacity="0.000"/></linearGradient><linearGradient id="hb44" gradientUnits="userSpaceOnUse" x1="275.4" y1="0" x2="730.5" y2="0"><stop offset="0.0000" stop-color="#fff" stop-opacity="0.000"/><stop offset="0.0879" stop-color="#fff" stop-opacity="0.072"/><stop offset="0.9121" stop-color="#fff" stop-opacity="0.072"/><stop offset="1.0000" stop-color="#fff" stop-opacity="0.000"/></linearGradient><linearGradient id="hb45" gradientUnits="userSpaceOnUse" x1="328.4" y1="0" x2="659.5" y2="0"><stop offset="0.0000" stop-color="#fff" stop-opacity="0.000"/><stop offset="0.1208" stop-color="#fff" stop-opacity="0.118"/><stop offset="0.8792" stop-color="#fff" stop-opacity="0.118"/><stop offset="1.0000" stop-color="#fff" stop-opacity="0.000"/></linearGradient><linearGradient id="hb46" gradientUnits="userSpaceOnUse" x1="235.5" y1="0" x2="632.8" y2="0"><stop offset="0.0000" stop-color="#fff" stop-opacity="0.000"/><stop offset="0.1007" stop-color="#fff" stop-opacity="0.066"/><stop offset="0.8993" stop-color="#fff" stop-opacity="0.066"/><stop offset="1.0000" stop-color="#fff" stop-opacity="0.000"/></linearGradient><linearGradient id="hb47" gradientUnits="userSpaceOnUse" x1="276.3" y1="0" x2="693.6" y2="0"><stop offset="0.0000" stop-color="#fff" stop-opacity="0.000"/><stop offset="0.0959" stop-color="#fff" stop-opacity="0.103"/><stop offset="0.9041" stop-color="#fff" stop-opacity="0.103"/><stop offset="1.0000" stop-color="#fff" stop-opacity="0.000"/></linearGradient><linearGradient id="hb48" gradientUnits="userSpaceOnUse" x1="353.3" y1="0" x2="711.8" y2="0"><stop offset="0.0000" stop-color="#fff" stop-opacity="0.000"/><stop offset="0.1116" stop-color="#fff" stop-opacity="0.084"/><stop offset="0.8884" stop-color="#fff" stop-opacity="0.084"/><stop offset="1.0000" stop-color="#fff" stop-opacity="0.000"/></linearGradient><linearGradient id="hb49" gradientUnits="userSpaceOnUse" x1="310.1" y1="0" x2="740.0" y2="0"><stop offset="0.0000" stop-color="#fff" stop-opacity="0.000"/><stop offset="0.0931" stop-color="#fff" stop-opacity="0.106"/><stop offset="0.9069" stop-color="#fff" stop-opacity="0.106"/><stop offset="1.0000" stop-color="#fff" stop-opacity="0.000"/></linearGradient><linearGradient id="hb50" gradientUnits="userSpaceOnUse" x1="383.0" y1="0" x2="618.7" y2="0"><stop offset="0.0000" stop-color="#fff" stop-opacity="0.000"/><stop offset="0.1697" stop-color="#fff" stop-opacity="0.083"/><stop offset="0.8303" stop-color="#fff" stop-opacity="0.083"/><stop offset="1.0000" stop-color="#fff" stop-opacity="0.000"/></linearGradient><linearGradient id="hb51" gradientUnits="userSpaceOnUse" x1="250.3" y1="0" x2="678.1" y2="0"><stop offset="0.0000" stop-color="#fff" stop-opacity="0.000"/><stop offset="0.0935" stop-color="#fff" stop-opacity="0.121"/><stop offset="0.9065" stop-color="#fff" stop-opacity="0.121"/><stop offset="1.0000" stop-color="#fff" stop-opacity="0.000"/></linearGradient><linearGradient id="hb52" gradientUnits="userSpaceOnUse" x1="348.5" y1="0" x2="691.6" y2="0"><stop offset="0.0000" stop-color="#fff" stop-opacity="0.000"/><stop offset="0.1166" stop-color="#fff" stop-opacity="0.113"/><stop offset="0.8834" stop-color="#fff" stop-opacity="0.113"/><stop offset="1.0000" stop-color="#fff" stop-opacity="0.000"/></linearGradient><linearGradient id="hb53" gradientUnits="userSpaceOnUse" x1="337.4" y1="0" x2="695.0" y2="0"><stop offset="0.0000" stop-color="#fff" stop-opacity="0.000"/><stop offset="0.1118" stop-color="#fff" stop-opacity="0.085"/><stop offset="0.8882" stop-color="#fff" stop-opacity="0.085"/><stop offset="1.0000" stop-color="#fff" stop-opacity="0.000"/></linearGradient><linearGradient id="hb54" gradientUnits="userSpaceOnUse" x1="360.6" y1="0" x2="751.1" y2="0"><stop offset="0.0000" stop-color="#fff" stop-opacity="0.000"/><stop offset="0.1024" stop-color="#fff" stop-opacity="0.096"/><stop offset="0.8976" stop-color="#fff" stop-opacity="0.096"/><stop offset="1.0000" stop-color="#fff" stop-opacity="0.000"/></linearGradient><linearGradient id="hb55" gradientUnits="userSpaceOnUse" x1="235.7" y1="0" x2="712.2" y2="0"><stop offset="0.0000" stop-color="#fff" stop-opacity="0.000"/><stop offset="0.0840" stop-color="#fff" stop-opacity="0.113"/><stop offset="0.9160" stop-color="#fff" stop-opacity="0.113"/><stop offset="1.0000" stop-color="#fff" stop-opacity="0.000"/></linearGradient><linearGradient id="hb56" gradientUnits="userSpaceOnUse" x1="357.7" y1="0" x2="645.4" y2="0"><stop offset="0.0000" stop-color="#fff" stop-opacity="0.000"/><stop offset="0.1390" stop-color="#fff" stop-opacity="0.139"/><stop offset="0.8610" stop-color="#fff" stop-opacity="0.139"/><stop offset="1.0000" stop-color="#fff" stop-opacity="0.000"/></linearGradient><linearGradient id="hb57" gradientUnits="userSpaceOnUse" x1="229.6" y1="0" x2="673.8" y2="0"><stop offset="0.0000" stop-color="#fff" stop-opacity="0.000"/><stop offset="0.0901" stop-color="#fff" stop-opacity="0.113"/><stop offset="0.9099" stop-color="#fff" stop-opacity="0.113"/><stop offset="1.0000" stop-color="#fff" stop-opacity="0.000"/></linearGradient><linearGradient id="hb58" gradientUnits="userSpaceOnUse" x1="969.8" y1="0" x2="1473.6" y2="0"><stop offset="0.0000" stop-color="#fff" stop-opacity="0.000"/><stop offset="0.0794" stop-color="#fff" stop-opacity="0.069"/><stop offset="0.9206" stop-color="#fff" stop-opacity="0.069"/><stop offset="1.0000" stop-color="#fff" stop-opacity="0.000"/></linearGradient><linearGradient id="hb59" gradientUnits="userSpaceOnUse" x1="1024.7" y1="0" x2="1490.7" y2="0"><stop offset="0.0000" stop-color="#fff" stop-opacity="0.000"/><stop offset="0.0858" stop-color="#fff" stop-opacity="0.080"/><stop offset="0.9142" stop-color="#fff" stop-opacity="0.080"/><stop offset="1.0000" stop-color="#fff" stop-opacity="0.000"/></linearGradient><linearGradient id="hb60" gradientUnits="userSpaceOnUse" x1="1051.0" y1="0" x2="1492.7" y2="0"><stop offset="0.0000" stop-color="#fff" stop-opacity="0.000"/><stop offset="0.0906" stop-color="#fff" stop-opacity="0.096"/><stop offset="0.9094" stop-color="#fff" stop-opacity="0.096"/><stop offset="1.0000" stop-color="#fff" stop-opacity="0.000"/></linearGradient><linearGradient id="hb61" gradientUnits="userSpaceOnUse" x1="1006.1" y1="0" x2="1415.2" y2="0"><stop offset="0.0000" stop-color="#fff" stop-opacity="0.000"/><stop offset="0.0978" stop-color="#fff" stop-opacity="0.129"/><stop offset="0.9022" stop-color="#fff" stop-opacity="0.129"/><stop offset="1.0000" stop-color="#fff" stop-opacity="0.000"/></linearGradient><linearGradient id="hb62" gradientUnits="userSpaceOnUse" x1="1118.6" y1="0" x2="1371.4" y2="0"><stop offset="0.0000" stop-color="#fff" stop-opacity="0.000"/><stop offset="0.1582" stop-color="#fff" stop-opacity="0.131"/><stop offset="0.8418" stop-color="#fff" stop-opacity="0.131"/><stop offset="1.0000" stop-color="#fff" stop-opacity="0.000"/></linearGradient><linearGradient id="hb63" gradientUnits="userSpaceOnUse" x1="998.6" y1="0" x2="1426.7" y2="0"><stop offset="0.0000" stop-color="#fff" stop-opacity="0.000"/><stop offset="0.0934" stop-color="#fff" stop-opacity="0.079"/><stop offset="0.9066" stop-color="#fff" stop-opacity="0.079"/><stop offset="1.0000" stop-color="#fff" stop-opacity="0.000"/></linearGradient><linearGradient id="hb64" gradientUnits="userSpaceOnUse" x1="960.7" y1="0" x2="1415.8" y2="0"><stop offset="0.0000" stop-color="#fff" stop-opacity="0.000"/><stop offset="0.0879" stop-color="#fff" stop-opacity="0.081"/><stop offset="0.9121" stop-color="#fff" stop-opacity="0.081"/><stop offset="1.0000" stop-color="#fff" stop-opacity="0.000"/></linearGradient><linearGradient id="hb65" gradientUnits="userSpaceOnUse" x1="1117.8" y1="0" x2="1460.7" y2="0"><stop offset="0.0000" stop-color="#fff" stop-opacity="0.000"/><stop offset="0.1166" stop-color="#fff" stop-opacity="0.105"/><stop offset="0.8834" stop-color="#fff" stop-opacity="0.105"/><stop offset="1.0000" stop-color="#fff" stop-opacity="0.000"/></linearGradient><linearGradient id="hb66" gradientUnits="userSpaceOnUse" x1="1072.0" y1="0" x2="1355.3" y2="0"><stop offset="0.0000" stop-color="#fff" stop-opacity="0.000"/><stop offset="0.1412" stop-color="#fff" stop-opacity="0.109"/><stop offset="0.8588" stop-color="#fff" stop-opacity="0.109"/><stop offset="1.0000" stop-color="#fff" stop-opacity="0.000"/></linearGradient><linearGradient id="hb67" gradientUnits="userSpaceOnUse" x1="1104.8" y1="0" x2="1478.5" y2="0"><stop offset="0.0000" stop-color="#fff" stop-opacity="0.000"/><stop offset="0.1070" stop-color="#fff" stop-opacity="0.138"/><stop offset="0.8930" stop-color="#fff" stop-opacity="0.138"/><stop offset="1.0000" stop-color="#fff" stop-opacity="0.000"/></linearGradient><linearGradient id="hb68" gradientUnits="userSpaceOnUse" x1="977.1" y1="0" x2="1451.4" y2="0"><stop offset="0.0000" stop-color="#fff" stop-opacity="0.000"/><stop offset="0.0843" stop-color="#fff" stop-opacity="0.100"/><stop offset="0.9157" stop-color="#fff" stop-opacity="0.100"/><stop offset="1.0000" stop-color="#fff" stop-opacity="0.000"/></linearGradient><linearGradient id="hb69" gradientUnits="userSpaceOnUse" x1="994.6" y1="0" x2="1373.3" y2="0"><stop offset="0.0000" stop-color="#fff" stop-opacity="0.000"/><stop offset="0.1056" stop-color="#fff" stop-opacity="0.067"/><stop offset="0.8944" stop-color="#fff" stop-opacity="0.067"/><stop offset="1.0000" stop-color="#fff" stop-opacity="0.000"/></linearGradient><linearGradient id="hb70" gradientUnits="userSpaceOnUse" x1="960.0" y1="0" x2="1371.4" y2="0"><stop offset="0.0000" stop-color="#fff" stop-opacity="0.000"/><stop offset="0.0972" stop-color="#fff" stop-opacity="0.065"/><stop offset="0.9028" stop-color="#fff" stop-opacity="0.065"/><stop offset="1.0000" stop-color="#fff" stop-opacity="0.000"/></linearGradient><linearGradient id="hb71" gradientUnits="userSpaceOnUse" x1="964.2" y1="0" x2="1491.2" y2="0"><stop offset="0.0000" stop-color="#fff" stop-opacity="0.000"/><stop offset="0.0759" stop-color="#fff" stop-opacity="0.096"/><stop offset="0.9241" stop-color="#fff" stop-opacity="0.096"/><stop offset="1.0000" stop-color="#fff" stop-opacity="0.000"/></linearGradient><linearGradient id="hb72" gradientUnits="userSpaceOnUse" x1="1001.8" y1="0" x2="1403.9" y2="0"><stop offset="0.0000" stop-color="#fff" stop-opacity="0.000"/><stop offset="0.0995" stop-color="#fff" stop-opacity="0.075"/><stop offset="0.9005" stop-color="#fff" stop-opacity="0.075"/><stop offset="1.0000" stop-color="#fff" stop-opacity="0.000"/></linearGradient><linearGradient id="hb73" gradientUnits="userSpaceOnUse" x1="1100.6" y1="0" x2="1510.9" y2="0"><stop offset="0.0000" stop-color="#fff" stop-opacity="0.000"/><stop offset="0.0975" stop-color="#fff" stop-opacity="0.072"/><stop offset="0.9025" stop-color="#fff" stop-opacity="0.072"/><stop offset="1.0000" stop-color="#fff" stop-opacity="0.000"/></linearGradient><linearGradient id="hb74" gradientUnits="userSpaceOnUse" x1="974.2" y1="0" x2="1363.3" y2="0"><stop offset="0.0000" stop-color="#fff" stop-opacity="0.000"/><stop offset="0.1028" stop-color="#fff" stop-opacity="0.108"/><stop offset="0.8972" stop-color="#fff" stop-opacity="0.108"/><stop offset="1.0000" stop-color="#fff" stop-opacity="0.000"/></linearGradient><linearGradient id="hb75" gradientUnits="userSpaceOnUse" x1="1097.3" y1="0" x2="1373.1" y2="0"><stop offset="0.0000" stop-color="#fff" stop-opacity="0.000"/><stop offset="0.1450" stop-color="#fff" stop-opacity="0.086"/><stop offset="0.8550" stop-color="#fff" stop-opacity="0.086"/><stop offset="1.0000" stop-color="#fff" stop-opacity="0.000"/></linearGradient><linearGradient id="hb76" gradientUnits="userSpaceOnUse" x1="1047.5" y1="0" x2="1370.7" y2="0"><stop offset="0.0000" stop-color="#fff" stop-opacity="0.000"/><stop offset="0.1238" stop-color="#fff" stop-opacity="0.155"/><stop offset="0.8762" stop-color="#fff" stop-opacity="0.155"/><stop offset="1.0000" stop-color="#fff" stop-opacity="0.000"/></linearGradient><linearGradient id="hb77" gradientUnits="userSpaceOnUse" x1="310.6" y1="0" x2="756.6" y2="0"><stop offset="0.0000" stop-color="#fff" stop-opacity="0.000"/><stop offset="0.0897" stop-color="#fff" stop-opacity="0.061"/><stop offset="0.9103" stop-color="#fff" stop-opacity="0.061"/><stop offset="1.0000" stop-color="#fff" stop-opacity="0.000"/></linearGradient><linearGradient id="hb78" gradientUnits="userSpaceOnUse" x1="267.8" y1="0" x2="658.5" y2="0"><stop offset="0.0000" stop-color="#fff" stop-opacity="0.000"/><stop offset="0.1024" stop-color="#fff" stop-opacity="0.088"/><stop offset="0.8976" stop-color="#fff" stop-opacity="0.088"/><stop offset="1.0000" stop-color="#fff" stop-opacity="0.000"/></linearGradient><linearGradient id="hb79" gradientUnits="userSpaceOnUse" x1="311.3" y1="0" x2="724.6" y2="0"><stop offset="0.0000" stop-color="#fff" stop-opacity="0.000"/><stop offset="0.0968" stop-color="#fff" stop-opacity="0.091"/><stop offset="0.9032" stop-color="#fff" stop-opacity="0.091"/><stop offset="1.0000" stop-color="#fff" stop-opacity="0.000"/></linearGradient><linearGradient id="hb80" gradientUnits="userSpaceOnUse" x1="356.0" y1="0" x2="757.6" y2="0"><stop offset="0.0000" stop-color="#fff" stop-opacity="0.000"/><stop offset="0.0996" stop-color="#fff" stop-opacity="0.069"/><stop offset="0.9004" stop-color="#fff" stop-opacity="0.069"/><stop offset="1.0000" stop-color="#fff" stop-opacity="0.000"/></linearGradient><linearGradient id="hb81" gradientUnits="userSpaceOnUse" x1="357.1" y1="0" x2="718.3" y2="0"><stop offset="0.0000" stop-color="#fff" stop-opacity="0.000"/><stop offset="0.1107" stop-color="#fff" stop-opacity="0.092"/><stop offset="0.8893" stop-color="#fff" stop-opacity="0.092"/><stop offset="1.0000" stop-color="#fff" stop-opacity="0.000"/></linearGradient><linearGradient id="hb82" gradientUnits="userSpaceOnUse" x1="283.0" y1="0" x2="604.4" y2="0"><stop offset="0.0000" stop-color="#fff" stop-opacity="0.000"/><stop offset="0.1244" stop-color="#fff" stop-opacity="0.081"/><stop offset="0.8756" stop-color="#fff" stop-opacity="0.081"/><stop offset="1.0000" stop-color="#fff" stop-opacity="0.000"/></linearGradient><linearGradient id="hb83" gradientUnits="userSpaceOnUse" x1="1002.9" y1="0" x2="1461.1" y2="0"><stop offset="0.0000" stop-color="#fff" stop-opacity="0.000"/><stop offset="0.0873" stop-color="#fff" stop-opacity="0.071"/><stop offset="0.9127" stop-color="#fff" stop-opacity="0.071"/><stop offset="1.0000" stop-color="#fff" stop-opacity="0.000"/></linearGradient><linearGradient id="hb84" gradientUnits="userSpaceOnUse" x1="1115.2" y1="0" x2="1510.0" y2="0"><stop offset="0.0000" stop-color="#fff" stop-opacity="0.000"/><stop offset="0.1013" stop-color="#fff" stop-opacity="0.078"/><stop offset="0.8987" stop-color="#fff" stop-opacity="0.078"/><stop offset="1.0000" stop-color="#fff" stop-opacity="0.000"/></linearGradient><linearGradient id="hb85" gradientUnits="userSpaceOnUse" x1="996.5" y1="0" x2="1384.0" y2="0"><stop offset="0.0000" stop-color="#fff" stop-opacity="0.000"/><stop offset="0.1032" stop-color="#fff" stop-opacity="0.075"/><stop offset="0.8968" stop-color="#fff" stop-opacity="0.075"/><stop offset="1.0000" stop-color="#fff" stop-opacity="0.000"/></linearGradient><linearGradient id="hb86" gradientUnits="userSpaceOnUse" x1="1063.3" y1="0" x2="1495.5" y2="0"><stop offset="0.0000" stop-color="#fff" stop-opacity="0.000"/><stop offset="0.0926" stop-color="#fff" stop-opacity="0.068"/><stop offset="0.9074" stop-color="#fff" stop-opacity="0.068"/><stop offset="1.0000" stop-color="#fff" stop-opacity="0.000"/></linearGradient><linearGradient id="hb87" gradientUnits="userSpaceOnUse" x1="1068.1" y1="0" x2="1478.8" y2="0"><stop offset="0.0000" stop-color="#fff" stop-opacity="0.000"/><stop offset="0.0974" stop-color="#fff" stop-opacity="0.079"/><stop offset="0.9026" stop-color="#fff" stop-opacity="0.079"/><stop offset="1.0000" stop-color="#fff" stop-opacity="0.000"/></linearGradient><linearGradient id="hb88" gradientUnits="userSpaceOnUse" x1="1110.7" y1="0" x2="1475.9" y2="0"><stop offset="0.0000" stop-color="#fff" stop-opacity="0.000"/><stop offset="0.1095" stop-color="#fff" stop-opacity="0.086"/><stop offset="0.8905" stop-color="#fff" stop-opacity="0.086"/><stop offset="1.0000" stop-color="#fff" stop-opacity="0.000"/></linearGradient><filter id="f15_15" filterUnits="userSpaceOnUse" x="0" y="0" width="1724" height="900"><feGaussianBlur stdDeviation="1.5 1.5"/></filter><filter id="f50_50" filterUnits="userSpaceOnUse" x="0" y="0" width="1724" height="900"><feGaussianBlur stdDeviation="5.0 5.0"/></filter></defs>
<rect x="226.0" y="400.0" width="1286.0" height="64.0" fill="url(#hb1)" filter="url(#f40_100)"/>
<rect x="900.0" y="409.0" width="612.0" height="30.0" fill="url(#hb2)" filter="url(#f40_50)"/>
<rect x="620.0" y="256.1" width="136.0" height="5.0" fill="url(#hb3)" filter="url(#f20_20)"/>
<rect x="640.0" y="282.5" width="116.0" height="7.0" fill="url(#hb4)" filter="url(#f20_25)"/>
<rect x="640.0" y="304.0" width="116.0" height="6.0" fill="url(#hb5)" filter="url(#f20_25)"/>
<rect x="600.0" y="325.5" width="158.0" height="7.0" fill="url(#hb6)" filter="url(#f20_25)"/>
<rect x="660.0" y="337.0" width="98.0" height="6.0" fill="url(#hb7)" filter="url(#f20_25)"/>
<rect x="600.0" y="349.5" width="158.0" height="5.0" fill="url(#hb8)" filter="url(#f20_20)"/>
<rect x="560.0" y="371.5" width="198.0" height="8.0" fill="url(#hb9)" filter="url(#f20_30)"/>
<rect x="500.0" y="392.0" width="258.0" height="6.0" fill="url(#hb10)" filter="url(#f20_25)"/>
<rect x="560.0" y="404.1" width="198.0" height="5.0" fill="url(#hb11)" filter="url(#f20_20)"/>
<rect x="480.0" y="414.6" width="278.0" height="6.0" fill="url(#hb12)" filter="url(#f20_25)"/>
<rect x="226.0" y="355.5" width="554.0" height="3.0" fill="url(#hb13)" filter="url(#f20_15)"/>
<rect x="226.0" y="364.5" width="554.0" height="3.0" fill="url(#hb14)" filter="url(#f20_15)"/>
<rect x="226.0" y="372.5" width="554.0" height="3.0" fill="url(#hb15)" filter="url(#f20_15)"/>
<rect x="226.0" y="381.5" width="554.0" height="3.0" fill="url(#hb16)" filter="url(#f20_15)"/>
<rect x="226.0" y="395.5" width="554.0" height="3.0" fill="url(#hb17)" filter="url(#f20_15)"/>
<rect x="226.0" y="405.5" width="554.0" height="3.0" fill="url(#hb18)" filter="url(#f20_15)"/>
<rect x="226.0" y="460.5" width="554.0" height="3.0" fill="url(#hb19)" filter="url(#f20_15)"/>
<rect x="226.0" y="468.5" width="554.0" height="3.0" fill="url(#hb20)" filter="url(#f20_15)"/>
<rect x="226.0" y="476.5" width="554.0" height="3.0" fill="url(#hb21)" filter="url(#f20_15)"/>
<rect x="226.0" y="415.0" width="544.0" height="34.0" fill="url(#hb22)" filter="url(#f20_50)"/>
<rect x="226.0" y="418.0" width="539.0" height="12.0" fill="url(#hb23)" filter="url(#f20_30)"/>
<rect x="226.0" y="432.0" width="374.0" height="16.0" fill="url(#hb24)" filter="url(#f20_30)"/>
<rect x="600.0" y="432.0" width="158.0" height="8.0" fill="url(#hb25)" filter="url(#f20_25)"/>
<rect x="600.0" y="482.0" width="160.0" height="16.0" fill="url(#hb26)" filter="url(#f20_40)"/>
<rect x="640.0" y="486.0" width="118.0" height="8.0" fill="url(#hb27)" filter="url(#f20_30)"/>
<rect x="935.0" y="382.5" width="265.0" height="7.0" fill="url(#hb28)" filter="url(#f20_25)"/>
<rect x="950.0" y="394.0" width="562.0" height="11.0" fill="url(#hb29)" filter="url(#f20_30)"/>
<rect x="975.0" y="409.0" width="537.0" height="12.0" fill="url(#hb30)" filter="url(#f20_30)"/>
<rect x="1000.0" y="421.5" width="512.0" height="9.0" fill="url(#hb31)" filter="url(#f20_25)"/>
<line x1="1255.0" y1="417.0" x2="1375.0" y2="429.0" stroke="#fff" stroke-opacity="0.900" stroke-width="9.0" filter="url(#f25_25)"/>
<rect x="1330.0" y="416.0" width="182.0" height="26.0" fill="url(#hb32)" filter="url(#f30_40)"/>
<rect x="1360.0" y="423.5" width="152.0" height="11.0" fill="url(#hb33)" filter="url(#f30_20)"/>
<rect x="960.0" y="439.5" width="552.0" height="6.0" fill="url(#hb34)" filter="url(#f20_25)"/>
<rect x="960.0" y="467.5" width="552.0" height="5.0" fill="url(#hb35)" filter="url(#f20_20)"/>
<rect x="940.0" y="484.5" width="150.0" height="5.0" fill="url(#hb36)" filter="url(#f20_25)"/>
<rect x="1000.0" y="452.5" width="512.0" height="5.0" fill="url(#hb37)" filter="url(#f20_20)"/>
<rect x="330.3" y="304.7" width="281.1" height="2.5" fill="url(#hb38)" filter="url(#f20_12)"/>
<rect x="235.3" y="321.6" width="445.8" height="2.5" fill="url(#hb39)" filter="url(#f20_12)"/>
<rect x="237.2" y="281.7" width="377.1" height="2.5" fill="url(#hb40)" filter="url(#f20_12)"/>
<rect x="245.8" y="312.7" width="389.7" height="2.5" fill="url(#hb41)" filter="url(#f20_12)"/>
<rect x="318.5" y="328.9" width="344.9" height="2.5" fill="url(#hb42)" filter="url(#f20_12)"/>
<rect x="363.5" y="356.9" width="282.7" height="2.5" fill="url(#hb43)" filter="url(#f20_12)"/>
<rect x="275.4" y="290.3" width="455.1" height="2.5" fill="url(#hb44)" filter="url(#f20_12)"/>
<rect x="328.4" y="293.2" width="331.1" height="2.5" fill="url(#hb45)" filter="url(#f20_12)"/>
<rect x="235.5" y="322.6" width="397.2" height="2.5" fill="url(#hb46)" filter="url(#f20_12)"/>
<rect x="276.3" y="333.2" width="417.3" height="2.5" fill="url(#hb47)" filter="url(#f20_12)"/>
<rect x="353.3" y="501.3" width="358.5" height="2.5" fill="url(#hb48)" filter="url(#f20_12)"/>
<rect x="310.1" y="479.4" width="429.9" height="2.5" fill="url(#hb49)" filter="url(#f20_12)"/>
<rect x="383.0" y="530.3" width="235.7" height="2.5" fill="url(#hb50)" filter="url(#f20_12)"/>
<rect x="250.3" y="497.7" width="427.8" height="2.5" fill="url(#hb51)" filter="url(#f20_12)"/>
<rect x="348.5" y="457.9" width="343.1" height="2.5" fill="url(#hb52)" filter="url(#f20_12)"/>
<rect x="337.4" y="545.7" width="357.6" height="2.5" fill="url(#hb53)" filter="url(#f20_12)"/>
<rect x="360.6" y="514.6" width="390.6" height="2.5" fill="url(#hb54)" filter="url(#f20_12)"/>
<rect x="235.7" y="503.5" width="476.5" height="2.5" fill="url(#hb55)" filter="url(#f20_12)"/>
<rect x="357.7" y="521.7" width="287.7" height="2.5" fill="url(#hb56)" filter="url(#f20_12)"/>
<rect x="229.6" y="494.3" width="444.1" height="2.5" fill="url(#hb57)" filter="url(#f20_12)"/>
<rect x="969.8" y="312.2" width="503.9" height="2.5" fill="url(#hb58)" filter="url(#f20_12)"/>
<rect x="1024.7" y="309.1" width="466.0" height="2.5" fill="url(#hb59)" filter="url(#f20_12)"/>
<rect x="1051.0" y="305.2" width="441.7" height="2.5" fill="url(#hb60)" filter="url(#f20_12)"/>
<rect x="1006.1" y="364.3" width="409.1" height="2.5" fill="url(#hb61)" filter="url(#f20_12)"/>
<rect x="1118.6" y="327.5" width="252.8" height="2.5" fill="url(#hb62)" filter="url(#f20_12)"/>
<rect x="998.6" y="312.8" width="428.1" height="2.5" fill="url(#hb63)" filter="url(#f20_12)"/>
<rect x="960.7" y="345.9" width="455.1" height="2.5" fill="url(#hb64)" filter="url(#f20_12)"/>
<rect x="1117.8" y="328.3" width="342.9" height="2.5" fill="url(#hb65)" filter="url(#f20_12)"/>
<rect x="1072.0" y="340.0" width="283.4" height="2.5" fill="url(#hb66)" filter="url(#f20_12)"/>
<rect x="1104.8" y="549.7" width="373.7" height="2.5" fill="url(#hb67)" filter="url(#f20_12)"/>
<rect x="977.1" y="504.1" width="474.3" height="2.5" fill="url(#hb68)" filter="url(#f20_12)"/>
<rect x="994.6" y="474.4" width="378.7" height="2.5" fill="url(#hb69)" filter="url(#f20_12)"/>
<rect x="960.0" y="499.4" width="411.4" height="2.5" fill="url(#hb70)" filter="url(#f20_12)"/>
<rect x="964.2" y="477.9" width="527.0" height="2.5" fill="url(#hb71)" filter="url(#f20_12)"/>
<rect x="1001.8" y="524.0" width="402.2" height="2.5" fill="url(#hb72)" filter="url(#f20_12)"/>
<rect x="1100.6" y="501.5" width="410.3" height="2.5" fill="url(#hb73)" filter="url(#f20_12)"/>
<rect x="974.2" y="510.7" width="389.1" height="2.5" fill="url(#hb74)" filter="url(#f20_12)"/>
<rect x="1097.3" y="499.6" width="275.9" height="2.5" fill="url(#hb75)" filter="url(#f20_12)"/>
<rect x="1047.5" y="470.8" width="323.2" height="2.5" fill="url(#hb76)" filter="url(#f20_12)"/>
<rect x="310.6" y="198.5" width="446.0" height="2.5" fill="url(#hb77)" filter="url(#f20_12)"/>
<rect x="267.8" y="233.7" width="390.7" height="2.5" fill="url(#hb78)" filter="url(#f20_12)"/>
<rect x="311.3" y="157.1" width="413.3" height="2.5" fill="url(#hb79)" filter="url(#f20_12)"/>
<rect x="356.0" y="175.0" width="401.6" height="2.5" fill="url(#hb80)" filter="url(#f20_12)"/>
<rect x="357.1" y="232.5" width="361.2" height="2.5" fill="url(#hb81)" filter="url(#f20_12)"/>
<rect x="283.0" y="163.7" width="321.5" height="2.5" fill="url(#hb82)" filter="url(#f20_12)"/>
<rect x="1002.9" y="602.1" width="458.2" height="2.5" fill="url(#hb83)" filter="url(#f20_12)"/>
<rect x="1115.2" y="713.5" width="394.8" height="2.5" fill="url(#hb84)" filter="url(#f20_12)"/>
<rect x="996.5" y="713.4" width="387.5" height="2.5" fill="url(#hb85)" filter="url(#f20_12)"/>
<rect x="1063.3" y="622.4" width="432.1" height="2.5" fill="url(#hb86)" filter="url(#f20_12)"/>
<rect x="1068.1" y="699.6" width="410.7" height="2.5" fill="url(#hb87)" filter="url(#f20_12)"/>
<rect x="1110.7" y="608.9" width="365.3" height="2.5" fill="url(#hb88)" filter="url(#f20_12)"/>
<line x1="792.8" y1="300.0" x2="792.8" y2="462.0" stroke="#fff" stroke-opacity="0.360" stroke-width="5.0" filter="url(#f20_20)"/>
<line x1="792.8" y1="375.0" x2="792.8" y2="455.0" stroke="#fff" stroke-opacity="0.560" stroke-width="3.0" filter="url(#f15_15)"/>
<line x1="775.0" y1="473.5" x2="948.0" y2="385.9" stroke="#fff" stroke-opacity="0.600" stroke-width="18.0" filter="url(#f50_50)"/>
<line x1="775.0" y1="473.5" x2="948.0" y2="385.9" stroke="#fff" stroke-opacity="1.000" stroke-width="7.0" filter="url(#f20_20)"/>
</g></g>
<g stroke="#231f20" stroke-width="1.3" fill="none">
<rect x="226.3" y="95.4" width="1286.1" height="660.3"/>
<line x1="226.3" y1="755.7" x2="226.3" y2="768.2"/>
<line x1="226.3" y1="95.4" x2="226.3" y2="82.9"/>
<line x1="354.9" y1="755.7" x2="354.9" y2="768.2"/>
<line x1="354.9" y1="95.4" x2="354.9" y2="82.9"/>
<line x1="483.5" y1="755.7" x2="483.5" y2="768.2"/>
<line x1="483.5" y1="95.4" x2="483.5" y2="82.9"/>
<line x1="612.1" y1="755.7" x2="612.1" y2="768.2"/>
<line x1="612.1" y1="95.4" x2="612.1" y2="82.9"/>
<line x1="740.7" y1="755.7" x2="740.7" y2="768.2"/>
<line x1="740.7" y1="95.4" x2="740.7" y2="82.9"/>
<line x1="869.4" y1="755.7" x2="869.4" y2="768.2"/>
<line x1="869.4" y1="95.4" x2="869.4" y2="82.9"/>
<line x1="998.0" y1="755.7" x2="998.0" y2="768.2"/>
<line x1="998.0" y1="95.4" x2="998.0" y2="82.9"/>
<line x1="1126.6" y1="755.7" x2="1126.6" y2="768.2"/>
<line x1="1126.6" y1="95.4" x2="1126.6" y2="82.9"/>
<line x1="1255.2" y1="755.7" x2="1255.2" y2="768.2"/>
<line x1="1255.2" y1="95.4" x2="1255.2" y2="82.9"/>
<line x1="1383.8" y1="755.7" x2="1383.8" y2="768.2"/>
<line x1="1383.8" y1="95.4" x2="1383.8" y2="82.9"/>
<line x1="1512.4" y1="755.7" x2="1512.4" y2="768.2"/>
<line x1="1512.4" y1="95.4" x2="1512.4" y2="82.9"/>
<line x1="213.8" y1="755.7" x2="226.3" y2="755.7"/>
<line x1="1512.4" y1="755.7" x2="1524.9" y2="755.7"/>
<line x1="213.8" y1="623.6" x2="226.3" y2="623.6"/>
<line x1="1512.4" y1="623.6" x2="1524.9" y2="623.6"/>
<line x1="213.8" y1="491.6" x2="226.3" y2="491.6"/>
<line x1="1512.4" y1="491.6" x2="1524.9" y2="491.6"/>
<line x1="213.8" y1="359.5" x2="226.3" y2="359.5"/>
<line x1="1512.4" y1="359.5" x2="1524.9" y2="359.5"/>
<line x1="213.8" y1="227.5" x2="226.3" y2="227.5"/>
<line x1="1512.4" y1="227.5" x2="1524.9" y2="227.5"/>
<line x1="213.8" y1="95.4" x2="226.3" y2="95.4"/>
<line x1="1512.4" y1="95.4" x2="1524.9" y2="95.4"/>
</g>
<g font-family="Liberation Sans, Arial, sans-serif" font-size="35" fill="#231f20">
<text x="226.3" y="814.3" text-anchor="middle">40</text>
<text x="354.9" y="814.3" text-anchor="middle">41</text>
<text x="483.5" y="814.3" text-anchor="middle">42</text>
<text x="612.1" y="814.3" text-anchor="middle">43</text>
<text x="740.7" y="814.3" text-anchor="middle">44</text>
<text x="869.4" y="814.3" text-anchor="middle">45</text>
<text x="998.0" y="814.3" text-anchor="middle">46</text>
<text x="1126.6" y="814.3" text-anchor="middle">47</text>
<text x="1255.2" y="814.3" text-anchor="middle">48</text>
<text x="1383.8" y="814.3" text-anchor="middle">49</text>
<text x="1512.4" y="814.3" text-anchor="middle">50</text>
<text x="204.5" y="770.2" text-anchor="end">40</text>
<text x="204.5" y="638.1" text-anchor="end">42</text>
<text x="204.5" y="506.1" text-anchor="end">44</text>
<text x="204.5" y="374.0" text-anchor="end">46</text>
<text x="204.5" y="242.0" text-anchor="end">48</text>
<text x="204.5" y="109.9" text-anchor="end">50</text>
</g>
<text x="645.6" y="861.3" font-family="Liberation Sans, Arial, sans-serif" font-size="41.7" fill="#231f20" textLength="531" lengthAdjust="spacingAndGlyphs">Modulation Frequency (MHz)</text>
<text transform="translate(154,572.7) rotate(-90)" font-family="Liberation Sans, Arial, sans-serif" font-size="38.8" fill="#231f20" textLength="294" lengthAdjust="spacingAndGlyphs">Frequency (MHz)</text>
<g fill="#231f20">
<text x="792.3" y="34.3" font-family="Liberation Sans, Arial, sans-serif" font-size="45.5" textLength="27.4" lengthAdjust="spacingAndGlyphs">P</text>
<text x="818.8" y="50.6" font-family="Liberation Sans, Arial, sans-serif" font-size="29">mod</text>
<text x="874.4" y="33.75" font-family="Liberation Sans, Arial, sans-serif" font-size="40" textLength="30.8" lengthAdjust="spacingAndGlyphs">=</text>
<text x="902.9" y="34.5" font-family="Liberation Serif, Times New Roman, serif" font-size="50">±1.9%</text>
<text x="-0.9" y="95.9" font-family="Liberation Sans, Arial, sans-serif" font-size="58" textLength="28.6" lengthAdjust="spacingAndGlyphs">a</text>
<text x="-1.2" y="926.6" font-family="Liberation Sans, Arial, sans-serif" font-size="57">b</text>
</g>
<g stroke="#2a2a2a" stroke-width="1.0" fill="none">
<circle cx="209.4" cy="1171.8" r="34.5"/>
<circle cx="209.4" cy="1171.8" r="69.0"/>
<circle cx="209.4" cy="1171.8" r="103.5"/>
<circle cx="209.4" cy="1171.8" r="138.0"/>
<circle cx="209.4" cy="1171.8" r="138.0"/>
<line x1="71.4" y1="1171.8" x2="347.4" y2="1171.8"/>
<line x1="89.9" y1="1240.8" x2="328.9" y2="1102.8"/>
<line x1="140.4" y1="1291.3" x2="278.4" y2="1052.3"/>
<line x1="209.4" y1="1309.8" x2="209.4" y2="1033.8"/>
<line x1="278.4" y1="1291.3" x2="140.4" y2="1052.3"/>
<line x1="328.9" y1="1240.8" x2="89.9" y2="1102.8"/>
</g>
<g font-family="Liberation Sans, Arial, sans-serif" font-size="30" fill="#231f20">
<text x="200.1" y="1167.1">0</text>
<text x="178.7" y="1139.3">0.05</text>
<text x="193.1" y="1104.6">0.1</text>
<text x="181.4" y="1071.3">0.15</text>
<text x="207.0" y="1036.5">0.2</text>
<text x="187.9" y="1000.8" text-anchor="start">90</text>
<text x="282.9" y="1020.8" text-anchor="start">60</text>
<text x="118.9" y="1020.8" text-anchor="end">120</text>
<text x="337.2" y="1074.3" text-anchor="start">30</text>
<text x="65.3" y="1074.3" text-anchor="end">150</text>
<text x="356.4" y="1172.1" text-anchor="start">0</text>
<text x="45.7" y="1172.1" text-anchor="end">180</text>
<text x="337.2" y="1270.1" text-anchor="start">330</text>
<text x="65.3" y="1270.1" text-anchor="end">210</text>
<text x="283.2" y="1323.3" text-anchor="start">300</text>
<text x="118.8" y="1323.3" text-anchor="end">240</text>
<text x="176.9" y="1342.6" text-anchor="start">270</text>
</g>
<g fill="#3174b8" stroke="#3174b8" stroke-linejoin="round" stroke-linecap="round">
<polygon points="90.3,1176.1 89.4,1153.3 95.6,1134.0 102.6,1120.0 111.4,1105.9 121.9,1095.4 130.7,1084.9 137.7,1076.1 155.2,1063.8 172.8,1056.8 186.8,1052.4 197.3,1049.8 221.9,1050.7 239.4,1051.6 257.0,1056.8 274.5,1063.8 292.1,1076.1 306.1,1090.2 316.6,1105.9 323.6,1123.5 327.2,1141.0 328.9,1158.6 334.2,1172.6 332.4,1184.9 325.4,1202.4 321.9,1216.5 311.4,1237.5 299.1,1253.3 257.0,1225.2 209.3,1234.0 162.2,1223.5 134.2,1205.9 92.1,1199.8" stroke-width="2"/>
<polyline points="168.2,1181.6 92.1,1199.8" fill="none" stroke-width="7.5"/>
<polyline points="171.6,1191.7 101.7,1228.8" fill="none" stroke-width="7.5"/>
<polyline points="175.6,1194.8 113.1,1237.5" fill="none" stroke-width="7.5"/>
<polyline points="176.5,1199.1 115.8,1249.8" fill="none" stroke-width="7.5"/>
<polyline points="178.7,1201.5 121.9,1256.8" fill="none" stroke-width="7.5"/>
<polyline points="182.4,1204.3 132.4,1264.7" fill="none" stroke-width="7.5"/>
<polyline points="185.4,1205.2 141.2,1267.4" fill="none" stroke-width="7.5"/>
<polyline points="187.3,1207.7 146.5,1274.4" fill="none" stroke-width="7.5"/>
<polyline points="189.1,1209.8 151.7,1280.5" fill="none" stroke-width="7.5"/>
<polyline points="194.0,1210.1 165.8,1281.4" fill="none" stroke-width="7.5"/>
<polyline points="195.9,1212.3 171.0,1287.5" fill="none" stroke-width="7.5"/>
<polyline points="200.8,1213.8 185.1,1291.9" fill="none" stroke-width="7.5"/>
<polyline points="205.1,1213.8 197.3,1291.9" fill="none" stroke-width="7.5"/>
<polyline points="208.8,1215.0 207.9,1295.4" fill="none" stroke-width="7.5"/>
<polyline points="210.6,1214.7 213.1,1294.5" fill="none" stroke-width="7.5"/>
<polyline points="216.8,1213.2 230.7,1290.2" fill="none" stroke-width="7.5"/>
<polyline points="219.8,1213.8 239.4,1291.9" fill="none" stroke-width="7.5"/>
<polyline points="221.7,1213.2 244.7,1290.2" fill="none" stroke-width="7.5"/>
<polyline points="224.7,1211.3 253.5,1284.9" fill="none" stroke-width="7.5"/>
<polyline points="227.8,1210.7 262.2,1283.1" fill="none" stroke-width="7.5"/>
<polyline points="231.5,1205.8 272.8,1269.1" fill="none" stroke-width="7.5"/>
<polyline points="235.2,1205.8 283.3,1269.1" fill="none" stroke-width="7.5"/>
<polyline points="240.7,1200.3 299.1,1253.3" fill="none" stroke-width="7.5"/>
<polyline points="244.4,1195.4 309.6,1239.3" fill="none" stroke-width="7.5"/>
<polyline points="248.7,1187.4 321.9,1216.5" fill="none" stroke-width="7.5"/>
</g>
<g fill="#fff">
<polygon points="245.6,1097.2 259.1,1067.7 248.6,1098.9"/>
<polygon points="248.2,1132.3 286.5,1129.6 250.3,1134.4"/>
<polygon points="244.7,1152.4 272.8,1139.3 246.5,1153.3"/>
<polygon points="148.2,1098.9 164.0,1117.4 146.5,1100.7"/>
<polygon points="141.2,1193.7 172.8,1185.8 142.9,1195.1"/>
<polygon points="281.5,1161.2 308.7,1157.7 282.4,1163.0"/>
<polygon points="252.6,1196.3 271.0,1207.7 251.7,1198.1"/>
<polygon points="144.7,1109.5 161.4,1125.2 143.8,1111.6"/>
<polygon points="120.1,1190.2 141.2,1183.1 121.9,1192.3"/>
<polygon points="267.5,1077.9 271.0,1081.4 265.8,1083.5"/>
<polygon points="281.5,1093.7 290.3,1091.9 282.4,1096.3"/>
<polygon points="248.2,1119.1 274.5,1107.7 249.1,1120.9"/>
<polygon points="297.3,1114.7 309.6,1113.8 298.2,1116.5"/>
<polygon points="279.8,1186.6 309.6,1191.0 280.7,1188.8"/>
<polygon points="227.2,1058.6 231.5,1058.6 228.9,1074.4"/>
</g>
<g font-family="Liberation Sans, Arial, sans-serif" font-weight="bold" fill="#0a0a0a"><text x="73.4" y="940.1" font-size="48">f</text><text x="89.4" y="956.1" font-size="27">mod</text><text x="149.0" y="943.1" font-size="33" textLength="19.8" lengthAdjust="spacingAndGlyphs">=</text><text x="176.8" y="943.1" font-size="32.5">44MHz</text></g>
<g stroke="#2a2a2a" stroke-width="1.0" fill="none">
<circle cx="633.3" cy="1171.5" r="34.5"/>
<circle cx="633.3" cy="1171.5" r="69.0"/>
<circle cx="633.3" cy="1171.5" r="103.5"/>
<circle cx="633.3" cy="1171.5" r="138.0"/>
<circle cx="633.3" cy="1171.5" r="138.0"/>
<line x1="495.3" y1="1171.5" x2="771.3" y2="1171.5"/>
<line x1="513.8" y1="1240.5" x2="752.8" y2="1102.5"/>
<line x1="564.3" y1="1291.0" x2="702.3" y2="1052.0"/>
<line x1="633.3" y1="1309.5" x2="633.3" y2="1033.5"/>
<line x1="702.3" y1="1291.0" x2="564.3" y2="1052.0"/>
<line x1="752.8" y1="1240.5" x2="513.8" y2="1102.5"/>
</g>
<g font-family="Liberation Sans, Arial, sans-serif" font-size="30" fill="#231f20">
<text x="624.0" y="1166.8">0</text>
<text x="602.6" y="1139.0">0.05</text>
<text x="617.0" y="1104.3">0.1</text>
<text x="605.3" y="1071.0">0.15</text>
<text x="630.9" y="1036.2">0.2</text>
<text x="611.8" y="1000.5" text-anchor="start">90</text>
<text x="706.8" y="1020.5" text-anchor="start">60</text>
<text x="542.8" y="1020.5" text-anchor="end">120</text>
<text x="761.1" y="1074.0" text-anchor="start">30</text>
<text x="489.2" y="1074.0" text-anchor="end">150</text>
<text x="780.3" y="1171.8" text-anchor="start">0</text>
<text x="469.6" y="1171.8" text-anchor="end">180</text>
<text x="761.1" y="1269.8" text-anchor="start">330</text>
<text x="489.2" y="1269.8" text-anchor="end">210</text>
<text x="707.1" y="1323.0" text-anchor="start">300</text>
<text x="542.7" y="1323.0" text-anchor="end">240</text>
<text x="600.8" y="1342.3" text-anchor="start">270</text>
</g>
<g fill="#3174b8" stroke="#3174b8" stroke-linejoin="round" stroke-linecap="round">
<polygon points="633.3,1171.7 610.8,1181.4 572.2,1184.9 531.9,1183.1 524.8,1176.1 521.3,1160.3 524.8,1132.3 531.9,1111.2 545.9,1091.9 563.4,1076.1 582.7,1079.6 586.2,1095.4" stroke-width="2"/>
<polygon points="563.4,1074.4 579.2,1064.7 602.0,1055.9 631.9,1048.9 654.7,1049.8 681.0,1055.9 698.5,1064.7 716.1,1077.9 730.1,1091.9 721.3,1096.3 707.3,1084.9 681.0,1070.9 663.4,1066.5 631.9,1063.8 610.8,1067.4 593.3,1077.9 586.2,1084.9 572.2,1084.9" stroke-width="2"/>
<polygon points="633.3,1171.7 663.4,1149.8 707.3,1120.0 689.8,1114.7 681.0,1092.8 681.0,1070.9 698.5,1064.7 716.1,1077.9 730.1,1091.9 742.4,1111.2 751.2,1123.5 756.4,1146.3 758.2,1167.4 757.3,1184.9 754.7,1190.2 707.3,1184.9 663.4,1181.4" stroke-width="2"/>
<polygon points="633.3,1171.7 649.4,1200.7 633.6,1213.0 630.1,1184.9" stroke-width="2"/>
<polyline points="681.0,1070.9 681.0,1092.8 693.3,1077.9 689.8,1114.7 707.3,1093.7 707.3,1125.2 719.6,1102.4" fill="none" stroke-width="7.0"/>
<polyline points="635.4,1181.4 663.4,1255.1" fill="none" stroke-width="7.5"/>
<polyline points="637.1,1181.4 672.2,1251.6" fill="none" stroke-width="7.5"/>
<polyline points="638.9,1179.6 689.8,1260.3" fill="none" stroke-width="7.5"/>
<polyline points="640.6,1179.6 698.5,1251.6" fill="none" stroke-width="7.5"/>
<polyline points="642.4,1179.6 710.8,1253.3" fill="none" stroke-width="7.5"/>
<polyline points="642.4,1177.9 721.3,1241.0" fill="none" stroke-width="7.5"/>
<polyline points="642.4,1177.9 730.1,1235.8" fill="none" stroke-width="7.5"/>
<polyline points="642.4,1176.1 742.4,1225.2" fill="none" stroke-width="7.5"/>
<polyline points="642.4,1176.1 744.1,1215.6" fill="none" stroke-width="7.5"/>
<polyline points="642.4,1176.1 751.2,1204.2" fill="none" stroke-width="7.5"/>
<polyline points="635.4,1184.9 647.6,1237.5" fill="none" stroke-width="7.5"/>
<polyline points="633.3,1171.7 537.1,1195.4" fill="none" stroke-width="7.5"/>
<polyline points="633.3,1171.7 548.5,1206.8" fill="none" stroke-width="7.5"/>
<polyline points="633.3,1171.7 563.4,1216.5" fill="none" stroke-width="7.5"/>
</g>
<g fill="#fff">
<polygon points="683.6,1077.0 690.6,1079.6 683.1,1088.4"/>
<polygon points="695.0,1086.6 702.9,1096.3 693.3,1104.2"/>
<polygon points="711.7,1104.2 723.1,1097.2 716.1,1111.2"/>
<polygon points="709.1,1130.5 737.1,1121.7 710.8,1132.6"/>
<polygon points="719.6,1142.8 747.6,1137.5 721.3,1144.9"/>
<polygon points="707.3,1154.2 737.1,1151.9 709.1,1156.1"/>
<polygon points="716.1,1165.6 740.6,1163.8 716.1,1167.4"/>
</g>
<g font-family="Liberation Sans, Arial, sans-serif" font-weight="bold" fill="#0a0a0a"><text x="479.9" y="946.1" font-size="48">f</text><text x="495.9" y="962.1" font-size="27">mod</text><text x="555.7" y="943.1" font-size="33" textLength="18.8" lengthAdjust="spacingAndGlyphs">=</text><text x="582.7" y="943.1" font-size="32.5">44.3MHz</text></g>
<g stroke="#2a2a2a" stroke-width="1.0" fill="none">
<circle cx="1083.6" cy="1164.1" r="38.5"/>
<circle cx="1083.6" cy="1164.1" r="77.0"/>
<circle cx="1083.6" cy="1164.1" r="115.5"/>
<circle cx="1083.6" cy="1164.1" r="138.0"/>
<line x1="945.6" y1="1164.1" x2="1221.6" y2="1164.1"/>
<line x1="964.1" y1="1233.1" x2="1203.1" y2="1095.1"/>
<line x1="1014.6" y1="1283.6" x2="1152.6" y2="1044.6"/>
<line x1="1083.6" y1="1302.1" x2="1083.6" y2="1026.1"/>
<line x1="1152.6" y1="1283.6" x2="1014.6" y2="1044.6"/>
<line x1="1203.1" y1="1233.1" x2="964.1" y2="1095.1"/>
</g>
<g font-family="Liberation Sans, Arial, sans-serif" font-size="30" fill="#231f20">
<text x="1072.4" y="1162.1">0</text>
<text x="1052.5" y="1126.1">0.05</text>
<text x="1069.7" y="1089.1">0.1</text>
<text x="1065.3" y="1051.2">0.15</text>
<text x="1062.1" y="993.1" text-anchor="start">90</text>
<text x="1157.1" y="1013.1" text-anchor="start">60</text>
<text x="993.1" y="1013.1" text-anchor="end">120</text>
<text x="1211.4" y="1066.6" text-anchor="start">30</text>
<text x="939.5" y="1066.6" text-anchor="end">150</text>
<text x="1230.6" y="1164.4" text-anchor="start">0</text>
<text x="919.9" y="1164.4" text-anchor="end">180</text>
<text x="1211.4" y="1262.4" text-anchor="start">330</text>
<text x="939.5" y="1262.4" text-anchor="end">210</text>
<text x="1157.4" y="1315.6" text-anchor="start">300</text>
<text x="993.0" y="1315.6" text-anchor="end">240</text>
<text x="1051.1" y="1334.9" text-anchor="start">270</text>
</g>
<g fill="#3174b8" stroke="#3174b8" stroke-linejoin="round" stroke-linecap="round">
<polygon points="982.9,1085.7 996.9,1069.9 1017.9,1054.1 1044.3,1041.8 1070.6,1033.9 1084.6,1032.2 1105.7,1033.0 1132.0,1038.3 1158.3,1048.8 1175.8,1061.1 1189.9,1075.1 1202.2,1092.7 1174.1,1089.2 1167.1,1071.6 1149.5,1059.4 1132.0,1052.3 1105.7,1048.8 1079.4,1049.7 1053.0,1054.1 1030.2,1062.9 1014.4,1075.1 1005.7,1085.7" stroke-width="2"/>
<polygon points="1083.9,1164.1 1114.4,1152.3 1140.8,1140.1 1167.1,1117.2 1172.3,1103.2 1174.1,1089.2 1189.9,1075.1 1202.2,1092.7 1210.9,1115.5 1212.7,1138.3 1210.9,1162.9 1198.6,1176.9 1184.6,1183.9 1149.5,1187.4 1114.4,1176.9" stroke-width="2"/>
<polygon points="1083.9,1164.1 1044.3,1159.4 1012.7,1145.3 1005.7,1117.2 1002.2,1092.7 982.9,1085.7 968.8,1103.2 961.8,1127.8 958.3,1152.3 961.8,1176.9 967.1,1194.4 977.6,1208.5 991.6,1220.8 1005.7,1226.0 1014.4,1229.5 1030.2,1220.8 1061.8,1190.9" stroke-width="2"/>
<ellipse cx="1082.9" cy="1171.6" rx="10.5" ry="14.0"/>
</g>
<g fill="#fff">
<polygon points="974.1,1163.7 1037.2,1159.4 975.0,1172.0"/>
<polygon points="981.1,1184.8 1030.2,1177.8 982.9,1192.3"/>
<polygon points="991.6,1199.4 1026.7,1191.8 995.1,1203.2"/>
<polygon points="972.3,1141.8 996.9,1140.1 974.1,1148.8"/>
<polygon points="982.9,1121.6 1000.4,1129.5 984.6,1126.4"/>
<polygon points="986.4,1102.3 996.9,1112.0 982.9,1110.6"/>
<polygon points="1037.2,1172.5 1061.8,1171.6 1037.2,1177.2"/>
<polygon points="1000.4,1211.6 1037.2,1199.7 1005.7,1214.1"/>
<polygon points="1154.8,1159.4 1196.9,1158.5 1156.5,1161.1"/>
<polygon points="1181.1,1148.8 1198.6,1146.2 1181.1,1150.6"/>
<polygon points="1158.3,1173.4 1184.6,1169.9 1160.1,1175.5"/>
</g>
<g font-family="Liberation Sans, Arial, sans-serif" font-weight="bold" fill="#0a0a0a"><text x="933.8" y="940.1" font-size="48">f</text><text x="949.8" y="956.1" font-size="27">mod</text><text x="1009.9" y="936.1" font-size="33" textLength="14.4" lengthAdjust="spacingAndGlyphs">=</text><text x="1032.9" y="936.1" font-size="32.5">44.5MHz</text></g>
<g stroke="#2a2a2a" stroke-width="1.0" fill="none">
<circle cx="1542.5" cy="1166.2" r="38.5"/>
<circle cx="1542.5" cy="1166.2" r="77.0"/>
<circle cx="1542.5" cy="1166.2" r="115.5"/>
<circle cx="1542.5" cy="1166.2" r="138.0"/>
<line x1="1404.5" y1="1166.2" x2="1680.5" y2="1166.2"/>
<line x1="1423.0" y1="1235.2" x2="1662.0" y2="1097.2"/>
<line x1="1473.5" y1="1285.7" x2="1611.5" y2="1046.7"/>
<line x1="1542.5" y1="1304.2" x2="1542.5" y2="1028.2"/>
<line x1="1611.5" y1="1285.7" x2="1473.5" y2="1046.7"/>
<line x1="1662.0" y1="1235.2" x2="1423.0" y2="1097.2"/>
</g>
<g font-family="Liberation Sans, Arial, sans-serif" font-size="30" fill="#231f20">
<text x="1531.3" y="1164.2">0</text>
<text x="1511.4" y="1128.2">0.05</text>
<text x="1528.6" y="1091.2">0.1</text>
<text x="1524.2" y="1053.3">0.15</text>
<text x="1521.0" y="995.2" text-anchor="start">90</text>
<text x="1616.0" y="1015.2" text-anchor="start">60</text>
<text x="1452.0" y="1015.2" text-anchor="end">120</text>
<text x="1670.3" y="1068.7" text-anchor="start">30</text>
<text x="1398.4" y="1068.7" text-anchor="end">150</text>
<text x="1689.5" y="1166.5" text-anchor="start">0</text>
<text x="1378.8" y="1166.5" text-anchor="end">180</text>
<text x="1670.3" y="1264.5" text-anchor="start">330</text>
<text x="1398.4" y="1264.5" text-anchor="end">210</text>
<text x="1616.3" y="1317.7" text-anchor="start">300</text>
<text x="1451.9" y="1317.7" text-anchor="end">240</text>
<text x="1510.0" y="1337.0" text-anchor="start">270</text>
</g>
<g fill="#3174b8" stroke="#3174b8" stroke-linejoin="round" stroke-linecap="round">
<polygon points="1542.5,1166.2 1575.4,1130.3 1593.0,1098.7 1597.4,1068.9 1589.5,1044.3 1610.5,1051.3 1622.8,1063.6 1628.1,1077.6 1633.3,1088.2 1628.1,1100.4 1615.8,1121.5 1593.0,1135.5 1566.7,1154.8 1552.6,1163.6" stroke-width="2"/>
<polygon points="1542.5,1166.2 1535.1,1182.9 1514.0,1214.5 1487.7,1244.3 1477.2,1258.3 1498.2,1270.6 1519.3,1261.8 1531.6,1251.3 1538.6,1218.0 1542.1,1200.4 1547.4,1188.2 1557.9,1182.9 1559.6,1170.6" stroke-width="2"/>
<polyline points="1598.2,1067.1 1584.2,1044.3 1557.9,1035.9 1542.5,1035.2 1514.0,1037.6 1478.9,1047.8 1452.6,1065.4 1429.8,1095.2 1417.5,1130.3 1414.4,1168.9 1419.3,1200.4 1431.6,1226.8 1452.6,1246.1 1478.9,1256.6 1498.2,1265.4" fill="none" stroke-width="12.3"/>
</g>
<g font-family="Liberation Sans, Arial, sans-serif" font-weight="bold" fill="#0a0a0a"><text x="1392.8" y="940.1" font-size="48">f</text><text x="1408.8" y="956.1" font-size="27">mod</text><text x="1468.7" y="938.4" font-size="33" textLength="14.4" lengthAdjust="spacingAndGlyphs">=</text><text x="1492.0" y="938.4" font-size="32.5">44.7MHz</text></g>
<g stroke="#2a2a2a" stroke-width="1.0" fill="none">
<circle cx="211.5" cy="1636.4" r="38.5"/>
<circle cx="211.5" cy="1636.4" r="77.0"/>
<circle cx="211.5" cy="1636.4" r="115.5"/>
<circle cx="211.5" cy="1636.4" r="138.0"/>
<line x1="73.5" y1="1636.4" x2="349.5" y2="1636.4"/>
<line x1="92.0" y1="1705.4" x2="331.0" y2="1567.4"/>
<line x1="142.5" y1="1755.9" x2="280.5" y2="1516.9"/>
<line x1="211.5" y1="1774.4" x2="211.5" y2="1498.4"/>
<line x1="280.5" y1="1755.9" x2="142.5" y2="1516.9"/>
<line x1="331.0" y1="1705.4" x2="92.0" y2="1567.4"/>
</g>
<g font-family="Liberation Sans, Arial, sans-serif" font-size="30" fill="#231f20">
<text x="200.3" y="1634.4">0</text>
<text x="180.4" y="1598.4">0.05</text>
<text x="197.6" y="1561.4">0.1</text>
<text x="193.2" y="1523.5">0.15</text>
<text x="190.0" y="1465.4" text-anchor="start">90</text>
<text x="285.0" y="1485.4" text-anchor="start">60</text>
<text x="121.0" y="1485.4" text-anchor="end">120</text>
<text x="339.3" y="1538.9" text-anchor="start">30</text>
<text x="67.4" y="1538.9" text-anchor="end">150</text>
<text x="358.5" y="1636.7" text-anchor="start">0</text>
<text x="47.8" y="1636.7" text-anchor="end">180</text>
<text x="339.3" y="1734.7" text-anchor="start">330</text>
<text x="67.4" y="1734.7" text-anchor="end">210</text>
<text x="285.3" y="1787.9" text-anchor="start">300</text>
<text x="120.9" y="1787.9" text-anchor="end">240</text>
<text x="179.0" y="1807.2" text-anchor="start">270</text>
</g>
<g fill="#3174b8" stroke="#3174b8" stroke-linejoin="round" stroke-linecap="round">
<polygon points="211.3,1637.0 220.4,1605.0 230.9,1561.2 223.9,1526.1 216.9,1506.8 237.9,1510.3 259.0,1522.6 271.3,1529.6 274.8,1543.6 271.3,1564.7 269.5,1578.7 264.2,1591.0 241.4,1613.8 223.9,1631.4" stroke-width="2"/>
<polygon points="211.3,1637.0 234.4,1643.6 241.4,1659.4 250.2,1675.2 260.7,1698.0 266.0,1717.3 255.5,1729.6 246.7,1741.9 234.4,1748.9 215.1,1754.2 188.8,1750.6 178.3,1736.6 188.8,1710.3 199.3,1692.8 206.4,1657.7" stroke-width="2"/>
<polyline points="209.9,1505.4 188.8,1508.0 171.3,1514.2 150.2,1524.7 132.7,1537.0 111.6,1556.3 97.6,1573.8 88.8,1593.1 83.5,1613.8 83.5,1640.1 85.3,1657.7 92.3,1680.5 101.1,1698.0 113.4,1715.6 129.2,1727.8 150.2,1736.6 171.3,1741.9 188.8,1748.0 206.4,1751.5 223.9,1748.0" fill="none" stroke-width="14.4"/>
</g>
<g fill="#fff">
<polygon points="195.8,1712.1 204.6,1710.3 201.1,1741.9"/>
<polygon points="211.6,1720.8 216.9,1719.1 215.1,1740.1"/>
<polygon points="223.9,1717.3 229.2,1719.1 229.2,1740.1"/>
<polygon points="236.2,1715.6 241.4,1715.6 244.9,1736.6"/>
<polygon points="180.0,1724.3 188.8,1719.1 181.8,1740.1"/>
<polygon points="243.2,1687.5 252.0,1692.8 248.5,1715.6"/>
<polygon points="227.4,1684.0 234.4,1689.2 230.9,1710.3"/>
<polygon points="216.9,1692.8 220.4,1694.5 218.6,1712.1"/>
</g>
<g font-family="Liberation Sans, Arial, sans-serif" font-weight="bold" fill="#0a0a0a"><text x="66.4" y="1410.4" font-size="48">f</text><text x="82.4" y="1426.4" font-size="27">mod</text><text x="142.9" y="1408.9" font-size="33" textLength="8.5" lengthAdjust="spacingAndGlyphs">=</text><text x="160.9" y="1408.9" font-size="32.5">44.8MHz</text></g>
<g stroke="#2a2a2a" stroke-width="1.0" fill="none">
<circle cx="644.3" cy="1637.3" r="38.5"/>
<circle cx="644.3" cy="1637.3" r="77.0"/>
<circle cx="644.3" cy="1637.3" r="115.5"/>
<circle cx="644.3" cy="1637.3" r="138.0"/>
<line x1="506.3" y1="1637.3" x2="782.3" y2="1637.3"/>
<line x1="524.8" y1="1706.3" x2="763.8" y2="1568.3"/>
<line x1="575.3" y1="1756.8" x2="713.3" y2="1517.8"/>
<line x1="644.3" y1="1775.3" x2="644.3" y2="1499.3"/>
<line x1="713.3" y1="1756.8" x2="575.3" y2="1517.8"/>
<line x1="763.8" y1="1706.3" x2="524.8" y2="1568.3"/>
</g>
<g font-family="Liberation Sans, Arial, sans-serif" font-size="30" fill="#231f20">
<text x="633.1" y="1635.3">0</text>
<text x="613.2" y="1599.3">0.05</text>
<text x="630.4" y="1562.3">0.1</text>
<text x="626.0" y="1524.4">0.15</text>
<text x="622.8" y="1466.3" text-anchor="start">90</text>
<text x="717.8" y="1486.3" text-anchor="start">60</text>
<text x="553.8" y="1486.3" text-anchor="end">120</text>
<text x="772.1" y="1539.8" text-anchor="start">30</text>
<text x="500.2" y="1539.8" text-anchor="end">150</text>
<text x="791.3" y="1637.6" text-anchor="start">0</text>
<text x="480.6" y="1637.6" text-anchor="end">180</text>
<text x="772.1" y="1735.6" text-anchor="start">330</text>
<text x="500.2" y="1735.6" text-anchor="end">210</text>
<text x="718.1" y="1788.8" text-anchor="start">300</text>
<text x="553.7" y="1788.8" text-anchor="end">240</text>
<text x="611.8" y="1808.1" text-anchor="start">270</text>
</g>
<g fill="#3174b8" stroke="#3174b8" stroke-linejoin="round" stroke-linecap="round">
<polygon points="644.3,1637.6 648.1,1606.0 648.1,1565.7 641.1,1541.1 632.3,1530.6 632.3,1518.3 651.6,1520.1 662.2,1527.1 667.4,1537.6 669.2,1549.9 669.2,1567.4 663.9,1590.2 656.9,1614.8 651.6,1630.6" stroke-width="2"/>
<polygon points="644.3,1637.6 667.4,1639.4 674.4,1653.4 700.8,1679.7 711.3,1692.0 716.5,1707.8 713.0,1720.1 709.5,1730.6 692.0,1737.6 685.0,1728.8 688.5,1716.6 683.2,1700.8 649.9,1644.6" stroke-width="2"/>
<polyline points="644.6,1518.3 621.8,1514.8 597.2,1518.3 572.7,1528.8 551.6,1542.9 534.1,1562.2 521.8,1583.2 516.5,1606.0 514.8,1632.4 516.5,1658.7 521.8,1681.5 530.6,1702.5 544.6,1721.8 560.4,1735.9 577.9,1744.6 597.2,1753.4 621.8,1758.7 644.6,1758.7 665.7,1753.4 685.0,1744.6 700.8,1734.1 709.5,1720.1" fill="none" stroke-width="11.9"/>
<polyline points="644.3,1637.6 637.6,1643.8" fill="none" stroke-width="7.5"/>
</g>
<g font-family="Liberation Sans, Arial, sans-serif" font-weight="bold" fill="#0a0a0a"><text x="492.9" y="1410.4" font-size="48">f</text><text x="508.9" y="1426.4" font-size="27">mod</text><text x="568.4" y="1409.2" font-size="33" textLength="16.4" lengthAdjust="spacingAndGlyphs">=</text><text x="593.5" y="1409.2" font-size="32.5">44.9MHz</text></g>
<g stroke="#2a2a2a" stroke-width="1.0" fill="none">
<circle cx="1090.3" cy="1640.8" r="38.5"/>
<circle cx="1090.3" cy="1640.8" r="77.0"/>
<circle cx="1090.3" cy="1640.8" r="115.5"/>
<circle cx="1090.3" cy="1640.8" r="138.0"/>
<line x1="952.3" y1="1640.8" x2="1228.3" y2="1640.8"/>
<line x1="970.8" y1="1709.8" x2="1209.8" y2="1571.8"/>
<line x1="1021.3" y1="1760.3" x2="1159.3" y2="1521.3"/>
<line x1="1090.3" y1="1778.8" x2="1090.3" y2="1502.8"/>
<line x1="1159.3" y1="1760.3" x2="1021.3" y2="1521.3"/>
<line x1="1209.8" y1="1709.8" x2="970.8" y2="1571.8"/>
</g>
<g font-family="Liberation Sans, Arial, sans-serif" font-size="30" fill="#231f20">
<text x="1079.1" y="1638.8">0</text>
<text x="1059.2" y="1602.8">0.05</text>
<text x="1076.4" y="1565.8">0.1</text>
<text x="1072.0" y="1527.9">0.15</text>
<text x="1068.8" y="1469.8" text-anchor="start">90</text>
<text x="1163.8" y="1489.8" text-anchor="start">60</text>
<text x="999.8" y="1489.8" text-anchor="end">120</text>
<text x="1218.1" y="1543.3" text-anchor="start">30</text>
<text x="946.2" y="1543.3" text-anchor="end">150</text>
<text x="1237.3" y="1641.1" text-anchor="start">0</text>
<text x="926.6" y="1641.1" text-anchor="end">180</text>
<text x="1218.1" y="1739.1" text-anchor="start">330</text>
<text x="946.2" y="1739.1" text-anchor="end">210</text>
<text x="1164.1" y="1792.3" text-anchor="start">300</text>
<text x="999.7" y="1792.3" text-anchor="end">240</text>
<text x="1057.8" y="1811.6" text-anchor="start">270</text>
</g>
<g fill="#3174b8" stroke="#3174b8" stroke-linejoin="round" stroke-linecap="round">
<polygon points="1090.3,1640.7 1090.6,1618.8 1085.4,1574.9 1078.3,1553.9 1071.3,1541.6 1071.3,1517.1 1090.6,1517.1 1102.9,1520.6 1115.2,1531.1 1120.4,1548.6 1120.4,1566.2 1116.9,1583.7 1109.9,1604.8 1102.9,1622.3" stroke-width="2"/>
<polygon points="1090.3,1640.7 1102.9,1632.8 1113.4,1641.6 1138.0,1650.4 1169.6,1664.4 1185.4,1676.7 1187.1,1689.0 1187.1,1703.0 1185.4,1713.5 1174.8,1724.1 1169.6,1732.8 1155.5,1746.9 1138.0,1755.6 1129.2,1748.6 1127.5,1722.3 1120.4,1697.8 1108.2,1671.4 1094.1,1648.6" stroke-width="2"/>
<polyline points="1071.3,1517.4 1050.3,1519.2 1027.5,1527.9 1006.4,1540.2 988.9,1556.0 974.8,1576.7 964.3,1597.8 959.4,1620.6 960.8,1645.1 964.3,1671.4 971.3,1694.2 981.8,1711.8 997.6,1729.3 1015.2,1743.4 1036.2,1755.6 1059.0,1761.8 1081.8,1763.5 1102.9,1760.0 1120.4,1755.6 1131.0,1748.6" fill="none" stroke-width="14.0"/>
<polyline points="1027.5,1529.3 1050.3,1530.2 1067.8,1539.9 1078.3,1553.9" fill="none" stroke-width="14.0"/>
<polyline points="1090.3,1640.7 1086.2,1646.9" fill="none" stroke-width="7.5"/>
</g>
<g fill="#fff">
<polygon points="1169.6,1680.2 1185.4,1685.5 1173.1,1683.7"/>
<polygon points="1164.3,1697.8 1185.4,1704.8 1166.1,1700.4"/>
<polygon points="1146.8,1689.0 1167.8,1717.1 1146.8,1694.2"/>
<polygon points="1141.5,1715.3 1155.5,1732.8 1139.7,1720.6"/>
</g>
<g font-family="Liberation Sans, Arial, sans-serif" font-weight="bold" fill="#0a0a0a"><text x="952.3" y="1410.4" font-size="48">f</text><text x="968.3" y="1426.4" font-size="27">mod</text><text x="1029.4" y="1412.2" font-size="33" textLength="19.5" lengthAdjust="spacingAndGlyphs">=</text><text x="1057.3" y="1412.2" font-size="32.5">45MHz</text></g>
<g stroke="#2a2a2a" stroke-width="1.0" fill="none">
<circle cx="1548.4" cy="1641.9" r="38.5"/>
<circle cx="1548.4" cy="1641.9" r="77.0"/>
<circle cx="1548.4" cy="1641.9" r="115.5"/>
<circle cx="1548.4" cy="1641.9" r="138.0"/>
<line x1="1410.4" y1="1641.9" x2="1686.4" y2="1641.9"/>
<line x1="1428.9" y1="1710.9" x2="1667.9" y2="1572.9"/>
<line x1="1479.4" y1="1761.4" x2="1617.4" y2="1522.4"/>
<line x1="1548.4" y1="1779.9" x2="1548.4" y2="1503.9"/>
<line x1="1617.4" y1="1761.4" x2="1479.4" y2="1522.4"/>
<line x1="1667.9" y1="1710.9" x2="1428.9" y2="1572.9"/>
</g>
<g font-family="Liberation Sans, Arial, sans-serif" font-size="30" fill="#231f20">
<text x="1537.2" y="1639.9">0</text>
<text x="1517.3" y="1603.9">0.05</text>
<text x="1534.5" y="1566.9">0.1</text>
<text x="1530.1" y="1529.0">0.15</text>
<text x="1526.9" y="1470.9" text-anchor="start">90</text>
<text x="1621.9" y="1490.9" text-anchor="start">60</text>
<text x="1457.9" y="1490.9" text-anchor="end">120</text>
<text x="1676.2" y="1544.4" text-anchor="start">30</text>
<text x="1404.3" y="1544.4" text-anchor="end">150</text>
<text x="1695.4" y="1642.2" text-anchor="start">0</text>
<text x="1384.7" y="1642.2" text-anchor="end">180</text>
<text x="1676.2" y="1740.2" text-anchor="start">330</text>
<text x="1404.3" y="1740.2" text-anchor="end">210</text>
<text x="1622.2" y="1793.4" text-anchor="start">300</text>
<text x="1457.8" y="1793.4" text-anchor="end">240</text>
<text x="1515.9" y="1812.7" text-anchor="start">270</text>
</g>
<g fill="#3174b8" stroke="#3174b8" stroke-linejoin="round" stroke-linecap="round">
<polygon points="1548.3,1642.3 1543.4,1630.3 1525.8,1616.3 1508.3,1602.3 1481.9,1584.7 1455.6,1581.2 1445.1,1584.7 1429.3,1583.0 1438.1,1568.9 1455.6,1551.4 1476.7,1542.6 1494.2,1549.6 1504.8,1551.4 1517.0,1563.7 1525.8,1570.7 1532.8,1583.0 1539.8,1597.0 1546.9,1616.3 1550.4,1630.3" stroke-width="2"/>
<polygon points="1548.3,1642.3 1552.1,1626.8 1569.7,1630.3 1578.4,1635.6 1596.0,1640.9 1622.3,1644.4 1636.3,1651.4 1645.1,1658.4 1655.6,1679.5 1648.6,1690.0 1646.9,1709.3 1641.6,1721.6 1636.3,1728.6 1622.3,1742.6 1613.5,1753.1 1601.2,1746.1 1604.8,1716.3 1596.0,1698.8 1569.7,1672.4 1552.1,1651.4" stroke-width="2"/>
<polyline points="1429.3,1583.0 1422.3,1602.3 1417.4,1623.3 1418.8,1649.6 1422.3,1672.4 1427.6,1690.0 1436.3,1709.3 1448.6,1725.1 1464.4,1737.4 1485.5,1747.9 1508.3,1758.4 1531.1,1764.5 1552.1,1764.5 1569.7,1760.2 1587.2,1749.6 1597.7,1739.1" fill="none" stroke-width="14.0"/>
</g>
<g fill="#fff">
<polygon points="1613.5,1675.9 1650.4,1688.2 1615.3,1678.6"/>
<polygon points="1622.3,1690.0 1646.9,1705.8 1623.2,1692.6"/>
<polygon points="1613.5,1707.5 1634.6,1725.1 1613.5,1712.8"/>
</g>
<g font-family="Liberation Sans, Arial, sans-serif" font-weight="bold" fill="#0a0a0a"><text x="1392.8" y="1415.4" font-size="48">f</text><text x="1408.8" y="1431.4" font-size="27">mod</text><text x="1469.9" y="1414.2" font-size="33" textLength="19.8" lengthAdjust="spacingAndGlyphs">=</text><text x="1497.7" y="1414.2" font-size="32.5">45.1MHz</text></g>
<g stroke="#2a2a2a" stroke-width="1.0" fill="none">
<circle cx="226.6" cy="2133.5" r="38.5"/>
<circle cx="226.6" cy="2133.5" r="77.0"/>
<circle cx="226.6" cy="2133.5" r="115.5"/>
<circle cx="226.6" cy="2133.5" r="138.0"/>
<line x1="88.6" y1="2133.5" x2="364.6" y2="2133.5"/>
<line x1="107.1" y1="2202.5" x2="346.1" y2="2064.5"/>
<line x1="157.6" y1="2253.0" x2="295.6" y2="2014.0"/>
<line x1="226.6" y1="2271.5" x2="226.6" y2="1995.5"/>
<line x1="295.6" y1="2253.0" x2="157.6" y2="2014.0"/>
<line x1="346.1" y1="2202.5" x2="107.1" y2="2064.5"/>
</g>
<g font-family="Liberation Sans, Arial, sans-serif" font-size="30" fill="#231f20">
<text x="215.4" y="2131.5">0</text>
<text x="195.5" y="2095.5">0.05</text>
<text x="212.7" y="2058.5">0.1</text>
<text x="208.3" y="2020.6">0.15</text>
<text x="205.1" y="1962.5" text-anchor="start">90</text>
<text x="300.1" y="1982.5" text-anchor="start">60</text>
<text x="136.1" y="1982.5" text-anchor="end">120</text>
<text x="354.4" y="2036.0" text-anchor="start">30</text>
<text x="82.5" y="2036.0" text-anchor="end">150</text>
<text x="373.6" y="2133.8" text-anchor="start">0</text>
<text x="62.9" y="2133.8" text-anchor="end">180</text>
<text x="354.4" y="2231.8" text-anchor="start">330</text>
<text x="82.5" y="2231.8" text-anchor="end">210</text>
<text x="300.4" y="2285.0" text-anchor="start">300</text>
<text x="136.0" y="2285.0" text-anchor="end">240</text>
<text x="194.1" y="2304.3" text-anchor="start">270</text>
</g>
<g fill="#3174b8" stroke="#3174b8" stroke-linejoin="round" stroke-linecap="round">
<polygon points="226.9,2133.9 196.0,2118.8 148.7,2103.0 122.4,2110.1 99.5,2108.3 97.8,2094.3 111.8,2083.7 111.8,2064.4 118.8,2059.2 131.1,2053.9 169.7,2080.2 155.7,2055.7 153.9,2050.4 175.0,2055.7 187.3,2064.4 201.3,2090.8 220.6,2122.3" stroke-width="2"/>
<polygon points="226.9,2133.9 231.1,2115.3 248.7,2104.8 275.0,2087.2 292.5,2075.0 310.1,2075.0 327.6,2087.2 343.4,2103.0 339.9,2129.4 352.2,2138.1 350.4,2155.7 345.2,2182.0 339.9,2199.5 331.1,2213.6 318.8,2222.3 306.6,2231.1 299.5,2229.4 294.3,2203.0 285.5,2178.5 257.4,2155.7 239.9,2141.6" stroke-width="2"/>
<polyline points="97.8,2097.8 94.6,2120.6 96.4,2143.4 99.5,2164.4 104.8,2182.0 115.3,2199.5 129.4,2217.1 146.9,2231.1 166.2,2243.4 187.3,2252.2 208.3,2257.4 227.6,2260.1 248.7,2253.9 266.2,2248.6 283.8,2239.9 301.3,2231.1" fill="none" stroke-width="13.7"/>
<polyline points="99.5,2146.9 101.3,2173.2" fill="none" stroke-width="7.0"/>
</g>
<g fill="#fff">
<polygon points="128.5,2081.1 136.4,2092.5 131.1,2092.5"/>
<polygon points="153.9,2092.5 173.2,2108.3 155.7,2097.8"/>
<polygon points="289.0,2110.1 325.9,2103.0 290.8,2111.8"/>
<polygon points="290.8,2122.3 325.9,2115.3 291.6,2124.1"/>
<polygon points="283.8,2163.6 331.1,2176.7 285.5,2166.2"/>
<polygon points="296.0,2180.2 332.9,2190.8 297.8,2182.0"/>
</g>
<g font-family="Liberation Sans, Arial, sans-serif" font-weight="bold" fill="#0a0a0a"><text x="73.4" y="1908.1" font-size="48">f</text><text x="89.4" y="1924.1" font-size="27">mod</text><text x="148.7" y="1905.8" font-size="33" textLength="18.9" lengthAdjust="spacingAndGlyphs">=</text><text x="175.8" y="1905.8" font-size="32.5">45.2MHz</text></g>
<g stroke="#2a2a2a" stroke-width="1.0" fill="none">
<circle cx="665.4" cy="2131.5" r="38.5"/>
<circle cx="665.4" cy="2131.5" r="77.0"/>
<circle cx="665.4" cy="2131.5" r="115.5"/>
<circle cx="665.4" cy="2131.5" r="138.0"/>
<line x1="527.4" y1="2131.5" x2="803.4" y2="2131.5"/>
<line x1="545.9" y1="2200.5" x2="784.9" y2="2062.5"/>
<line x1="596.4" y1="2251.0" x2="734.4" y2="2012.0"/>
<line x1="665.4" y1="2269.5" x2="665.4" y2="1993.5"/>
<line x1="734.4" y1="2251.0" x2="596.4" y2="2012.0"/>
<line x1="784.9" y1="2200.5" x2="545.9" y2="2062.5"/>
</g>
<g font-family="Liberation Sans, Arial, sans-serif" font-size="30" fill="#231f20">
<text x="654.2" y="2129.5">0</text>
<text x="634.3" y="2093.5">0.05</text>
<text x="651.5" y="2056.5">0.1</text>
<text x="647.1" y="2018.6">0.15</text>
<text x="643.9" y="1960.5" text-anchor="start">90</text>
<text x="738.9" y="1980.5" text-anchor="start">60</text>
<text x="574.9" y="1980.5" text-anchor="end">120</text>
<text x="793.2" y="2034.0" text-anchor="start">30</text>
<text x="521.3" y="2034.0" text-anchor="end">150</text>
<text x="812.4" y="2131.8" text-anchor="start">0</text>
<text x="501.7" y="2131.8" text-anchor="end">180</text>
<text x="793.2" y="2229.8" text-anchor="start">330</text>
<text x="521.3" y="2229.8" text-anchor="end">210</text>
<text x="739.2" y="2283.0" text-anchor="start">300</text>
<text x="574.8" y="2283.0" text-anchor="end">240</text>
<text x="632.9" y="2302.3" text-anchor="start">270</text>
</g>
<g fill="#3174b8" stroke="#3174b8" stroke-linejoin="round" stroke-linecap="round">
<polygon points="665.3,2130.9 577.9,2045.6 593.7,2036.9 598.1,2038.6 625.3,2077.2 660.4,2122.8" stroke-width="2"/>
<polygon points="665.3,2130.9 572.6,2101.8 558.6,2091.3 565.6,2077.2 576.1,2072.0 618.2,2096.5 660.4,2124.6" stroke-width="2"/>
<polygon points="665.3,2130.9 748.1,2083.4 749.8,2086.9 677.9,2122.0" stroke-width="2"/>
<polygon points="665.3,2130.9 718.2,2107.1 748.1,2100.0 783.2,2100.0 790.2,2108.8 791.1,2117.6 713.0,2128.1" stroke-width="2"/>
<polygon points="665.3,2130.9 713.0,2130.7 786.7,2133.4 788.4,2143.9 793.7,2152.7 776.1,2154.4" stroke-width="2"/>
<polyline points="549.8,2196.5 563.9,2212.3 577.9,2226.4 595.4,2238.6 618.2,2249.2 642.8,2256.2 665.6,2257.9 686.7,2256.2 709.5,2249.2 730.5,2238.6 748.1,2226.4 763.9,2210.6 772.6,2196.5 769.1,2187.8" fill="none" stroke-width="9.6"/>
<polyline points="549.8,2196.5 550.7,2179.0 544.6,2161.4 544.6,2152.7 556.8,2143.9 563.9,2138.6 540.2,2126.4 539.3,2108.8 544.6,2100.0 556.8,2095.6 563.9,2081.6 574.4,2074.6" fill="none" stroke-width="13.2"/>
<polyline points="781.4,2154.4 788.4,2164.9 769.1,2173.7 769.1,2186.0 776.1,2193.0 767.4,2205.3 767.4,2214.1" fill="none" stroke-width="13.2"/>
<polyline points="665.3,2130.9 655.1,2077.2" fill="none" stroke-width="7.5"/>
<polyline points="665.6,2126.4 668.2,2142.1" fill="none" stroke-width="7.5"/>
</g>
<g font-family="Liberation Sans, Arial, sans-serif" font-weight="bold" fill="#0a0a0a"><text x="513.9" y="1908.1" font-size="48">f</text><text x="529.9" y="1924.1" font-size="27">mod</text><text x="589.5" y="1902.0" font-size="33" textLength="16.6" lengthAdjust="spacingAndGlyphs">=</text><text x="614.7" y="1902.0" font-size="32.5">45.3MHz</text></g>
<g stroke="#2a2a2a" stroke-width="1.0" fill="none">
<circle cx="1094.5" cy="2130.8" r="38.5"/>
<circle cx="1094.5" cy="2130.8" r="77.0"/>
<circle cx="1094.5" cy="2130.8" r="115.5"/>
<circle cx="1094.5" cy="2130.8" r="138.0"/>
<line x1="956.5" y1="2130.8" x2="1232.5" y2="2130.8"/>
<line x1="975.0" y1="2199.8" x2="1214.0" y2="2061.8"/>
<line x1="1025.5" y1="2250.3" x2="1163.5" y2="2011.3"/>
<line x1="1094.5" y1="2268.8" x2="1094.5" y2="1992.8"/>
<line x1="1163.5" y1="2250.3" x2="1025.5" y2="2011.3"/>
<line x1="1214.0" y1="2199.8" x2="975.0" y2="2061.8"/>
</g>
<g font-family="Liberation Sans, Arial, sans-serif" font-size="30" fill="#231f20">
<text x="1083.3" y="2128.8">0</text>
<text x="1063.4" y="2092.8">0.05</text>
<text x="1080.6" y="2055.8">0.1</text>
<text x="1076.2" y="2017.9">0.15</text>
<text x="1073.0" y="1959.8" text-anchor="start">90</text>
<text x="1168.0" y="1979.8" text-anchor="start">60</text>
<text x="1004.0" y="1979.8" text-anchor="end">120</text>
<text x="1222.3" y="2033.3" text-anchor="start">30</text>
<text x="950.4" y="2033.3" text-anchor="end">150</text>
<text x="1241.5" y="2131.1" text-anchor="start">0</text>
<text x="930.8" y="2131.1" text-anchor="end">180</text>
<text x="1222.3" y="2229.1" text-anchor="start">330</text>
<text x="950.4" y="2229.1" text-anchor="end">210</text>
<text x="1168.3" y="2282.3" text-anchor="start">300</text>
<text x="1003.9" y="2282.3" text-anchor="end">240</text>
<text x="1062.0" y="2301.6" text-anchor="start">270</text>
</g>
<g fill="#3174b8" stroke="#3174b8" stroke-linejoin="round" stroke-linecap="round">
<polygon points="1024.4,2050.9 1045.5,2077.2 1020.9,2068.5" stroke-width="2"/>
<polygon points="987.6,2068.5 1043.7,2074.6 1043.7,2079.0 987.6,2079.9" stroke-width="2"/>
<polyline points="1094.6,2136.9 1094.3,2126.4 1084.1,2101.8 1057.8,2077.2 1043.7,2064.9 1027.9,2050.9 1022.7,2056.2 1020.9,2066.7 1010.4,2072.0 987.6,2070.2 985.8,2080.7 982.3,2091.3 971.8,2103.5 968.3,2114.1 971.8,2126.4 970.1,2143.9 970.1,2157.9 973.6,2172.0 980.6,2196.5 992.9,2210.6 1006.9,2222.8 1022.7,2236.9 1047.2,2249.2 1071.8,2256.2 1094.6,2256.2 1115.7,2254.4 1136.7,2249.2 1159.5,2238.6 1171.8,2231.6 1180.6,2215.8 1194.6,2200.0 1199.9,2187.8 1205.1,2179.0 1201.6,2170.2 1198.1,2157.9 1194.6,2150.9 1203.4,2147.4 1208.6,2143.9 1206.9,2138.6 1184.1,2133.4 1159.5,2129.9 1124.4,2126.4 1101.6,2126.4 1094.6,2130.9" fill="none" stroke-width="7.9"/>
<polyline points="1082.3,2100.0 1070.1,2068.5" fill="none" stroke-width="7.9"/>
<polyline points="1157.8,2129.0 1185.8,2129.0" fill="none" stroke-width="5.3"/>
<ellipse cx="1112.2" cy="2120.2" rx="7.0" ry="4.4"/>
</g>
<g font-family="Liberation Sans, Arial, sans-serif" font-weight="bold" fill="#0a0a0a"><text x="939.3" y="1906.1" font-size="48">f</text><text x="955.3" y="1922.1" font-size="27">mod</text><text x="1016.1" y="1902.0" font-size="33" textLength="19.8" lengthAdjust="spacingAndGlyphs">=</text><text x="1044.2" y="1902.0" font-size="32.5">45.4MHz</text></g>
<g stroke="#2a2a2a" stroke-width="1.0" fill="none">
<circle cx="1548.4" cy="2130.5" r="34.5"/>
<circle cx="1548.4" cy="2130.5" r="69.0"/>
<circle cx="1548.4" cy="2130.5" r="103.5"/>
<circle cx="1548.4" cy="2130.5" r="138.0"/>
<circle cx="1548.4" cy="2130.5" r="138.0"/>
<line x1="1410.4" y1="2130.5" x2="1686.4" y2="2130.5"/>
<line x1="1428.9" y1="2199.5" x2="1667.9" y2="2061.5"/>
<line x1="1479.4" y1="2250.0" x2="1617.4" y2="2011.0"/>
<line x1="1548.4" y1="2268.5" x2="1548.4" y2="1992.5"/>
<line x1="1617.4" y1="2250.0" x2="1479.4" y2="2011.0"/>
<line x1="1667.9" y1="2199.5" x2="1428.9" y2="2061.5"/>
</g>
<g font-family="Liberation Sans, Arial, sans-serif" font-size="30" fill="#231f20">
<text x="1539.1" y="2125.8">0</text>
<text x="1517.7" y="2098.0">0.05</text>
<text x="1532.1" y="2063.3">0.1</text>
<text x="1520.4" y="2030.0">0.15</text>
<text x="1546.0" y="1995.2">0.2</text>
<text x="1526.9" y="1959.5" text-anchor="start">90</text>
<text x="1621.9" y="1979.5" text-anchor="start">60</text>
<text x="1457.9" y="1979.5" text-anchor="end">120</text>
<text x="1676.2" y="2033.0" text-anchor="start">30</text>
<text x="1404.3" y="2033.0" text-anchor="end">150</text>
<text x="1695.4" y="2130.8" text-anchor="start">0</text>
<text x="1384.7" y="2130.8" text-anchor="end">180</text>
<text x="1676.2" y="2228.8" text-anchor="start">330</text>
<text x="1404.3" y="2228.8" text-anchor="end">210</text>
<text x="1622.2" y="2282.0" text-anchor="start">300</text>
<text x="1457.8" y="2282.0" text-anchor="end">240</text>
<text x="1515.9" y="2301.3" text-anchor="start">270</text>
</g>
<g fill="#3174b8" stroke="#3174b8" stroke-linejoin="round" stroke-linecap="round">
<polygon points="1487.2,2024.6 1508.3,2012.3 1529.3,2007.1 1548.6,2005.3 1569.7,2005.3 1592.5,2012.3 1613.5,2021.1 1631.1,2035.1 1648.6,2054.4 1657.4,2070.2 1666.2,2091.3 1669.7,2108.8 1669.7,2131.6 1667.9,2152.7 1662.6,2170.2 1655.6,2187.8 1648.6,2196.5 1631.1,2214.1 1613.5,2224.6 1592.5,2236.9 1569.7,2242.1 1546.9,2245.6 1525.8,2242.1 1515.3,2238.6 1520.5,2214.1 1490.7,2215.8 1487.2,2212.3 1476.7,2196.5 1466.2,2187.8 1446.9,2177.2 1438.1,2161.4 1434.6,2143.9 1434.6,2126.4 1438.1,2108.8 1434.6,2091.3 1443.4,2073.7 1455.6,2052.7 1473.2,2035.1" stroke-width="2"/>
</g>
<g fill="#fff">
<polygon points="1557.4,2119.3 1594.2,2065.8 1589.0,2064.9"/>
<polygon points="1450.4,2164.9 1510.0,2143.9 1452.1,2170.2"/>
<polygon points="1446.9,2154.4 1490.7,2149.2 1447.7,2157.1"/>
<polygon points="1455.6,2105.3 1501.2,2107.1 1456.5,2108.8"/>
<polygon points="1450.4,2119.3 1476.7,2122.8 1450.4,2122.0"/>
<polygon points="1467.9,2049.2 1492.5,2073.7 1467.0,2051.8"/>
<polygon points="1443.4,2077.2 1449.5,2084.2 1445.1,2090.4"/>
<polygon points="1525.8,2217.6 1529.3,2235.1 1524.1,2235.1"/>
<polygon points="1538.1,2214.1 1541.6,2235.1 1536.3,2235.1"/>
<polygon points="1555.6,2210.6 1560.9,2235.1 1553.9,2235.1"/>
<polygon points="1571.4,2208.8 1581.9,2231.6 1574.9,2233.4"/>
<polygon points="1590.7,2172.0 1625.8,2207.1 1620.5,2210.6"/>
<polygon points="1599.5,2240.4 1610.0,2226.4 1589.0,2240.4"/>
<polygon points="1620.5,2226.4 1631.1,2215.8 1613.5,2229.9"/>
<polygon points="1452.1,2148.3 1478.4,2146.5 1453.0,2150.9"/>
<polygon points="1601.2,2078.1 1615.3,2066.7 1603.0,2080.7"/>
<polygon points="1589.0,2095.6 1620.5,2073.7 1590.7,2098.3"/>
<polygon points="1613.5,2086.0 1636.3,2070.2 1615.3,2088.6"/>
<polygon points="1438.1,2086.9 1446.0,2089.5 1439.0,2093.0"/>
<polygon points="1494.2,2029.9 1504.8,2047.4 1493.4,2032.5"/>
<polygon points="1525.8,2012.3 1531.1,2031.6 1527.6,2012.3"/>
<polygon points="1532.8,2012.3 1538.1,2035.1 1534.9,2012.3"/>
<polygon points="1596.0,2179.0 1624.1,2193.0 1596.9,2181.6"/>
<polygon points="1440.7,2074.6 1449.0,2075.8 1446.0,2088.6 1439.0,2086.9"/>
<polygon points="1445.1,2161.4 1455.6,2163.2 1455.6,2173.7 1447.7,2172.8"/>
<polygon points="1519.7,2217.6 1528.4,2217.6 1527.9,2235.1 1517.9,2236.0"/>
<polygon points="1487.2,2203.5 1501.2,2201.8 1501.2,2212.3 1490.7,2213.2"/>
<polygon points="1445.1,2098.3 1453.9,2100.0 1452.1,2108.8 1444.2,2107.1"/>
<polygon points="1466.2,2182.5 1476.7,2180.7 1480.2,2189.5 1469.7,2191.3"/>
</g>
<g font-family="Liberation Sans, Arial, sans-serif" font-weight="bold" fill="#0a0a0a"><text x="1398.8" y="1908.1" font-size="48">f</text><text x="1414.8" y="1924.1" font-size="27">mod</text><text x="1474.5" y="1902.0" font-size="33" textLength="14.3" lengthAdjust="spacingAndGlyphs">=</text><text x="1497.9" y="1902.0" font-size="32.5">45.6MHz</text></g>
</svg></body></html>
